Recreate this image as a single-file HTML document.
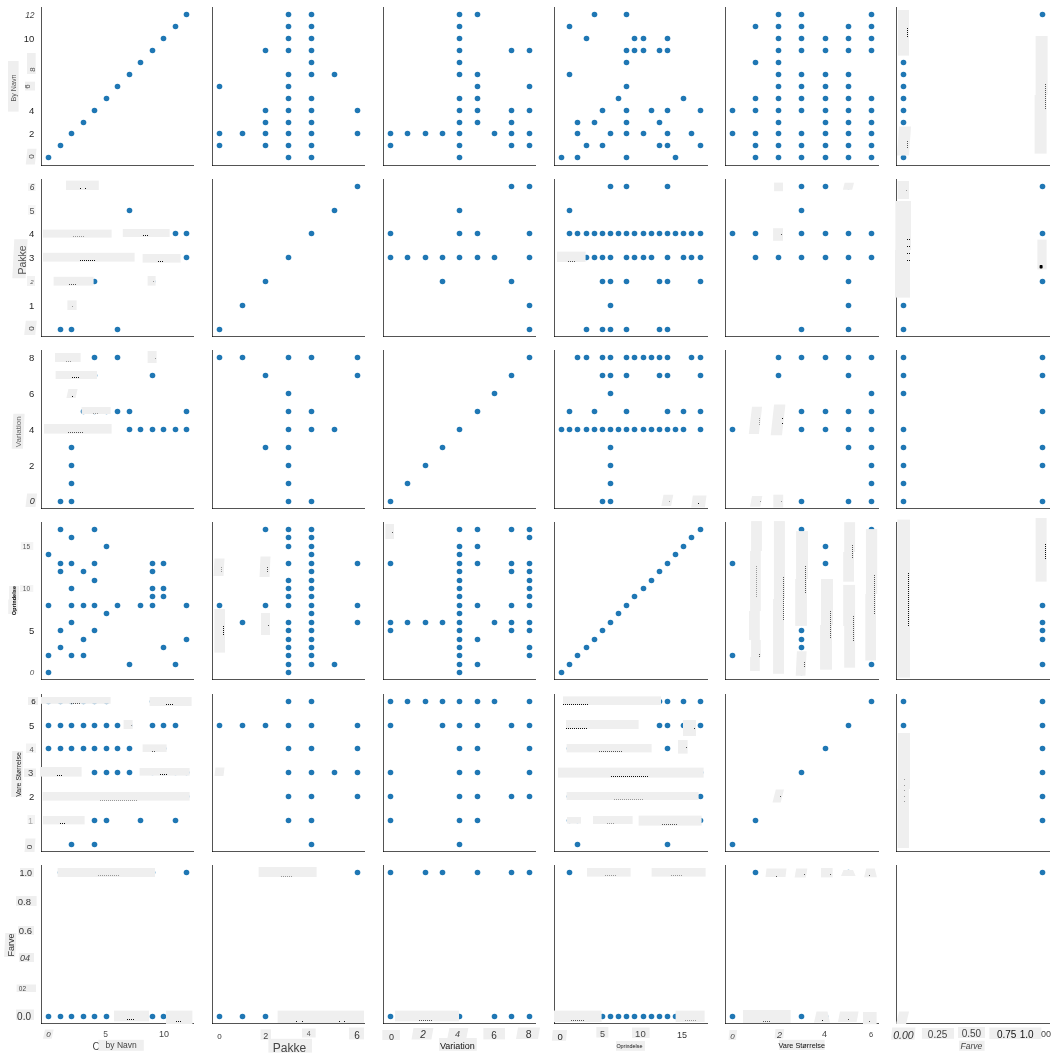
<!DOCTYPE html><html><head><meta charset="utf-8"><title>pairplot</title><style>html,body{margin:0;padding:0;background:#fff}svg{display:block}</style></head><body><svg width="1058" height="1059" viewBox="0 0 1058 1059">
<rect width="1058" height="1059" fill="#fff"/>
<g fill="#1f77b4">
<circle cx="48.5" cy="157.5" r="2.8"/>
<circle cx="60.5" cy="145.5" r="2.8"/>
<circle cx="71.5" cy="133.5" r="2.8"/>
<circle cx="83.5" cy="122.5" r="2.8"/>
<circle cx="94.5" cy="110.5" r="2.8"/>
<circle cx="106.5" cy="98.5" r="2.8"/>
<circle cx="117.5" cy="86.5" r="2.8"/>
<circle cx="129.5" cy="74.5" r="2.8"/>
<circle cx="140.5" cy="62.5" r="2.8"/>
<circle cx="152.5" cy="50.5" r="2.8"/>
<circle cx="163.5" cy="38.5" r="2.8"/>
<circle cx="175.5" cy="26.5" r="2.8"/>
<circle cx="186.5" cy="14.5" r="2.8"/>
<circle cx="219.5" cy="86.5" r="2.8"/>
<circle cx="219.5" cy="133.5" r="2.8"/>
<circle cx="219.5" cy="145.5" r="2.8"/>
<circle cx="242.5" cy="133.5" r="2.8"/>
<circle cx="265.5" cy="50.5" r="2.8"/>
<circle cx="265.5" cy="110.5" r="2.8"/>
<circle cx="265.5" cy="122.5" r="2.8"/>
<circle cx="265.5" cy="133.5" r="2.8"/>
<circle cx="265.5" cy="145.5" r="2.8"/>
<circle cx="288.5" cy="14.5" r="2.8"/>
<circle cx="288.5" cy="26.5" r="2.8"/>
<circle cx="288.5" cy="38.5" r="2.8"/>
<circle cx="288.5" cy="50.5" r="2.8"/>
<circle cx="288.5" cy="74.5" r="2.8"/>
<circle cx="288.5" cy="86.5" r="2.8"/>
<circle cx="288.5" cy="98.5" r="2.8"/>
<circle cx="288.5" cy="110.5" r="2.8"/>
<circle cx="288.5" cy="122.5" r="2.8"/>
<circle cx="288.5" cy="133.5" r="2.8"/>
<circle cx="288.5" cy="145.5" r="2.8"/>
<circle cx="288.5" cy="157.5" r="2.8"/>
<circle cx="311.5" cy="14.5" r="2.8"/>
<circle cx="311.5" cy="26.5" r="2.8"/>
<circle cx="311.5" cy="38.5" r="2.8"/>
<circle cx="311.5" cy="50.5" r="2.8"/>
<circle cx="311.5" cy="62.5" r="2.8"/>
<circle cx="311.5" cy="74.5" r="2.8"/>
<circle cx="311.5" cy="98.5" r="2.8"/>
<circle cx="311.5" cy="110.5" r="2.8"/>
<circle cx="311.5" cy="122.5" r="2.8"/>
<circle cx="311.5" cy="133.5" r="2.8"/>
<circle cx="311.5" cy="145.5" r="2.8"/>
<circle cx="311.5" cy="157.5" r="2.8"/>
<circle cx="334.5" cy="74.5" r="2.8"/>
<circle cx="357.5" cy="110.5" r="2.8"/>
<circle cx="357.5" cy="133.5" r="2.8"/>
<circle cx="390.5" cy="133.5" r="2.8"/>
<circle cx="390.5" cy="145.5" r="2.8"/>
<circle cx="407.5" cy="133.5" r="2.8"/>
<circle cx="425.5" cy="133.5" r="2.8"/>
<circle cx="442.5" cy="133.5" r="2.8"/>
<circle cx="459.5" cy="14.5" r="2.8"/>
<circle cx="459.5" cy="26.5" r="2.8"/>
<circle cx="459.5" cy="38.5" r="2.8"/>
<circle cx="459.5" cy="50.5" r="2.8"/>
<circle cx="459.5" cy="62.5" r="2.8"/>
<circle cx="459.5" cy="74.5" r="2.8"/>
<circle cx="459.5" cy="98.5" r="2.8"/>
<circle cx="459.5" cy="110.5" r="2.8"/>
<circle cx="459.5" cy="122.5" r="2.8"/>
<circle cx="459.5" cy="133.5" r="2.8"/>
<circle cx="459.5" cy="145.5" r="2.8"/>
<circle cx="459.5" cy="157.5" r="2.8"/>
<circle cx="477.5" cy="14.5" r="2.8"/>
<circle cx="477.5" cy="74.5" r="2.8"/>
<circle cx="477.5" cy="86.5" r="2.8"/>
<circle cx="477.5" cy="98.5" r="2.8"/>
<circle cx="477.5" cy="110.5" r="2.8"/>
<circle cx="477.5" cy="122.5" r="2.8"/>
<circle cx="494.5" cy="133.5" r="2.8"/>
<circle cx="511.5" cy="50.5" r="2.8"/>
<circle cx="511.5" cy="110.5" r="2.8"/>
<circle cx="511.5" cy="122.5" r="2.8"/>
<circle cx="511.5" cy="133.5" r="2.8"/>
<circle cx="511.5" cy="145.5" r="2.8"/>
<circle cx="529.5" cy="50.5" r="2.8"/>
<circle cx="529.5" cy="86.5" r="2.8"/>
<circle cx="529.5" cy="110.5" r="2.8"/>
<circle cx="529.5" cy="133.5" r="2.8"/>
<circle cx="529.5" cy="145.5" r="2.8"/>
<circle cx="594.5" cy="14.5" r="2.8"/>
<circle cx="626.5" cy="14.5" r="2.8"/>
<circle cx="569.5" cy="26.5" r="2.8"/>
<circle cx="586.5" cy="38.5" r="2.8"/>
<circle cx="634.5" cy="38.5" r="2.8"/>
<circle cx="643.5" cy="38.5" r="2.8"/>
<circle cx="667.5" cy="38.5" r="2.8"/>
<circle cx="626.5" cy="50.5" r="2.8"/>
<circle cx="634.5" cy="50.5" r="2.8"/>
<circle cx="643.5" cy="50.5" r="2.8"/>
<circle cx="659.5" cy="50.5" r="2.8"/>
<circle cx="667.5" cy="50.5" r="2.8"/>
<circle cx="626.5" cy="62.5" r="2.8"/>
<circle cx="569.5" cy="74.5" r="2.8"/>
<circle cx="626.5" cy="86.5" r="2.8"/>
<circle cx="618.5" cy="98.5" r="2.8"/>
<circle cx="683.5" cy="98.5" r="2.8"/>
<circle cx="602.5" cy="110.5" r="2.8"/>
<circle cx="626.5" cy="110.5" r="2.8"/>
<circle cx="651.5" cy="110.5" r="2.8"/>
<circle cx="667.5" cy="110.5" r="2.8"/>
<circle cx="700.5" cy="110.5" r="2.8"/>
<circle cx="577.5" cy="122.5" r="2.8"/>
<circle cx="594.5" cy="122.5" r="2.8"/>
<circle cx="626.5" cy="122.5" r="2.8"/>
<circle cx="659.5" cy="122.5" r="2.8"/>
<circle cx="577.5" cy="133.5" r="2.8"/>
<circle cx="610.5" cy="133.5" r="2.8"/>
<circle cx="626.5" cy="133.5" r="2.8"/>
<circle cx="643.5" cy="133.5" r="2.8"/>
<circle cx="667.5" cy="133.5" r="2.8"/>
<circle cx="691.5" cy="133.5" r="2.8"/>
<circle cx="586.5" cy="145.5" r="2.8"/>
<circle cx="602.5" cy="145.5" r="2.8"/>
<circle cx="659.5" cy="145.5" r="2.8"/>
<circle cx="667.5" cy="145.5" r="2.8"/>
<circle cx="700.5" cy="145.5" r="2.8"/>
<circle cx="561.5" cy="157.5" r="2.8"/>
<circle cx="577.5" cy="157.5" r="2.8"/>
<circle cx="626.5" cy="157.5" r="2.8"/>
<circle cx="675.5" cy="157.5" r="2.8"/>
<circle cx="778.5" cy="14.5" r="2.8"/>
<circle cx="801.5" cy="14.5" r="2.8"/>
<circle cx="871.5" cy="14.5" r="2.8"/>
<circle cx="755.5" cy="26.5" r="2.8"/>
<circle cx="778.5" cy="26.5" r="2.8"/>
<circle cx="801.5" cy="26.5" r="2.8"/>
<circle cx="848.5" cy="26.5" r="2.8"/>
<circle cx="871.5" cy="26.5" r="2.8"/>
<circle cx="778.5" cy="38.5" r="2.8"/>
<circle cx="801.5" cy="38.5" r="2.8"/>
<circle cx="825.5" cy="38.5" r="2.8"/>
<circle cx="848.5" cy="38.5" r="2.8"/>
<circle cx="871.5" cy="38.5" r="2.8"/>
<circle cx="778.5" cy="50.5" r="2.8"/>
<circle cx="801.5" cy="50.5" r="2.8"/>
<circle cx="825.5" cy="50.5" r="2.8"/>
<circle cx="848.5" cy="50.5" r="2.8"/>
<circle cx="871.5" cy="50.5" r="2.8"/>
<circle cx="755.5" cy="62.5" r="2.8"/>
<circle cx="778.5" cy="62.5" r="2.8"/>
<circle cx="778.5" cy="74.5" r="2.8"/>
<circle cx="801.5" cy="74.5" r="2.8"/>
<circle cx="825.5" cy="74.5" r="2.8"/>
<circle cx="848.5" cy="74.5" r="2.8"/>
<circle cx="778.5" cy="86.5" r="2.8"/>
<circle cx="801.5" cy="86.5" r="2.8"/>
<circle cx="825.5" cy="86.5" r="2.8"/>
<circle cx="848.5" cy="86.5" r="2.8"/>
<circle cx="755.5" cy="98.5" r="2.8"/>
<circle cx="778.5" cy="98.5" r="2.8"/>
<circle cx="801.5" cy="98.5" r="2.8"/>
<circle cx="825.5" cy="98.5" r="2.8"/>
<circle cx="848.5" cy="98.5" r="2.8"/>
<circle cx="871.5" cy="98.5" r="2.8"/>
<circle cx="732.5" cy="110.5" r="2.8"/>
<circle cx="755.5" cy="110.5" r="2.8"/>
<circle cx="778.5" cy="110.5" r="2.8"/>
<circle cx="801.5" cy="110.5" r="2.8"/>
<circle cx="825.5" cy="110.5" r="2.8"/>
<circle cx="848.5" cy="110.5" r="2.8"/>
<circle cx="871.5" cy="110.5" r="2.8"/>
<circle cx="778.5" cy="122.5" r="2.8"/>
<circle cx="825.5" cy="122.5" r="2.8"/>
<circle cx="848.5" cy="122.5" r="2.8"/>
<circle cx="871.5" cy="122.5" r="2.8"/>
<circle cx="732.5" cy="133.5" r="2.8"/>
<circle cx="755.5" cy="133.5" r="2.8"/>
<circle cx="778.5" cy="133.5" r="2.8"/>
<circle cx="801.5" cy="133.5" r="2.8"/>
<circle cx="825.5" cy="133.5" r="2.8"/>
<circle cx="848.5" cy="133.5" r="2.8"/>
<circle cx="871.5" cy="133.5" r="2.8"/>
<circle cx="755.5" cy="145.5" r="2.8"/>
<circle cx="778.5" cy="145.5" r="2.8"/>
<circle cx="801.5" cy="145.5" r="2.8"/>
<circle cx="825.5" cy="145.5" r="2.8"/>
<circle cx="848.5" cy="145.5" r="2.8"/>
<circle cx="871.5" cy="145.5" r="2.8"/>
<circle cx="755.5" cy="157.5" r="2.8"/>
<circle cx="778.5" cy="157.5" r="2.8"/>
<circle cx="801.5" cy="157.5" r="2.8"/>
<circle cx="825.5" cy="157.5" r="2.8"/>
<circle cx="848.5" cy="157.5" r="2.8"/>
<circle cx="871.5" cy="157.5" r="2.8"/>
<circle cx="903.5" cy="157.5" r="2.8"/>
<circle cx="903.5" cy="145.5" r="2.8"/>
<circle cx="903.5" cy="133.5" r="2.8"/>
<circle cx="903.5" cy="122.5" r="2.8"/>
<circle cx="903.5" cy="110.5" r="2.8"/>
<circle cx="903.5" cy="98.5" r="2.8"/>
<circle cx="903.5" cy="86.5" r="2.8"/>
<circle cx="903.5" cy="74.5" r="2.8"/>
<circle cx="903.5" cy="62.5" r="2.8"/>
<circle cx="903.5" cy="50.5" r="2.8"/>
<circle cx="903.5" cy="38.5" r="2.8"/>
<circle cx="903.5" cy="26.5" r="2.8"/>
<circle cx="903.5" cy="14.5" r="2.8"/>
<circle cx="1042.5" cy="145.5" r="2.8"/>
<circle cx="1042.5" cy="133.5" r="2.8"/>
<circle cx="1042.5" cy="122.5" r="2.8"/>
<circle cx="1042.5" cy="110.5" r="2.8"/>
<circle cx="1042.5" cy="98.5" r="2.8"/>
<circle cx="1042.5" cy="86.5" r="2.8"/>
<circle cx="1042.5" cy="74.5" r="2.8"/>
<circle cx="1042.5" cy="62.5" r="2.8"/>
<circle cx="1042.5" cy="50.5" r="2.8"/>
<circle cx="1042.5" cy="14.5" r="2.8"/>
<circle cx="117.5" cy="329.5" r="2.8"/>
<circle cx="71.5" cy="329.5" r="2.8"/>
<circle cx="60.5" cy="329.5" r="2.8"/>
<circle cx="71.5" cy="305.5" r="2.8"/>
<circle cx="152.5" cy="281.5" r="2.8"/>
<circle cx="94.5" cy="281.5" r="2.8"/>
<circle cx="83.5" cy="281.5" r="2.8"/>
<circle cx="71.5" cy="281.5" r="2.8"/>
<circle cx="60.5" cy="281.5" r="2.8"/>
<circle cx="186.5" cy="257.5" r="2.8"/>
<circle cx="175.5" cy="257.5" r="2.8"/>
<circle cx="163.5" cy="257.5" r="2.8"/>
<circle cx="152.5" cy="257.5" r="2.8"/>
<circle cx="129.5" cy="257.5" r="2.8"/>
<circle cx="117.5" cy="257.5" r="2.8"/>
<circle cx="106.5" cy="257.5" r="2.8"/>
<circle cx="94.5" cy="257.5" r="2.8"/>
<circle cx="83.5" cy="257.5" r="2.8"/>
<circle cx="71.5" cy="257.5" r="2.8"/>
<circle cx="60.5" cy="257.5" r="2.8"/>
<circle cx="48.5" cy="257.5" r="2.8"/>
<circle cx="186.5" cy="233.5" r="2.8"/>
<circle cx="175.5" cy="233.5" r="2.8"/>
<circle cx="163.5" cy="233.5" r="2.8"/>
<circle cx="152.5" cy="233.5" r="2.8"/>
<circle cx="140.5" cy="233.5" r="2.8"/>
<circle cx="129.5" cy="233.5" r="2.8"/>
<circle cx="106.5" cy="233.5" r="2.8"/>
<circle cx="94.5" cy="233.5" r="2.8"/>
<circle cx="83.5" cy="233.5" r="2.8"/>
<circle cx="71.5" cy="233.5" r="2.8"/>
<circle cx="60.5" cy="233.5" r="2.8"/>
<circle cx="48.5" cy="233.5" r="2.8"/>
<circle cx="129.5" cy="210.5" r="2.8"/>
<circle cx="94.5" cy="186.5" r="2.8"/>
<circle cx="71.5" cy="186.5" r="2.8"/>
<circle cx="219.5" cy="329.5" r="2.8"/>
<circle cx="242.5" cy="305.5" r="2.8"/>
<circle cx="265.5" cy="281.5" r="2.8"/>
<circle cx="288.5" cy="257.5" r="2.8"/>
<circle cx="311.5" cy="233.5" r="2.8"/>
<circle cx="334.5" cy="210.5" r="2.8"/>
<circle cx="357.5" cy="186.5" r="2.8"/>
<circle cx="511.5" cy="186.5" r="2.8"/>
<circle cx="529.5" cy="186.5" r="2.8"/>
<circle cx="459.5" cy="210.5" r="2.8"/>
<circle cx="390.5" cy="233.5" r="2.8"/>
<circle cx="459.5" cy="233.5" r="2.8"/>
<circle cx="477.5" cy="233.5" r="2.8"/>
<circle cx="529.5" cy="233.5" r="2.8"/>
<circle cx="390.5" cy="257.5" r="2.8"/>
<circle cx="407.5" cy="257.5" r="2.8"/>
<circle cx="425.5" cy="257.5" r="2.8"/>
<circle cx="442.5" cy="257.5" r="2.8"/>
<circle cx="459.5" cy="257.5" r="2.8"/>
<circle cx="477.5" cy="257.5" r="2.8"/>
<circle cx="494.5" cy="257.5" r="2.8"/>
<circle cx="529.5" cy="257.5" r="2.8"/>
<circle cx="442.5" cy="281.5" r="2.8"/>
<circle cx="511.5" cy="281.5" r="2.8"/>
<circle cx="529.5" cy="305.5" r="2.8"/>
<circle cx="529.5" cy="329.5" r="2.8"/>
<circle cx="610.5" cy="186.5" r="2.8"/>
<circle cx="626.5" cy="186.5" r="2.8"/>
<circle cx="667.5" cy="186.5" r="2.8"/>
<circle cx="569.5" cy="210.5" r="2.8"/>
<circle cx="569.5" cy="233.5" r="2.8"/>
<circle cx="577.5" cy="233.5" r="2.8"/>
<circle cx="586.5" cy="233.5" r="2.8"/>
<circle cx="594.5" cy="233.5" r="2.8"/>
<circle cx="602.5" cy="233.5" r="2.8"/>
<circle cx="610.5" cy="233.5" r="2.8"/>
<circle cx="618.5" cy="233.5" r="2.8"/>
<circle cx="626.5" cy="233.5" r="2.8"/>
<circle cx="634.5" cy="233.5" r="2.8"/>
<circle cx="643.5" cy="233.5" r="2.8"/>
<circle cx="651.5" cy="233.5" r="2.8"/>
<circle cx="659.5" cy="233.5" r="2.8"/>
<circle cx="667.5" cy="233.5" r="2.8"/>
<circle cx="675.5" cy="233.5" r="2.8"/>
<circle cx="683.5" cy="233.5" r="2.8"/>
<circle cx="691.5" cy="233.5" r="2.8"/>
<circle cx="700.5" cy="233.5" r="2.8"/>
<circle cx="561.5" cy="257.5" r="2.8"/>
<circle cx="569.5" cy="257.5" r="2.8"/>
<circle cx="577.5" cy="257.5" r="2.8"/>
<circle cx="586.5" cy="257.5" r="2.8"/>
<circle cx="594.5" cy="257.5" r="2.8"/>
<circle cx="602.5" cy="257.5" r="2.8"/>
<circle cx="610.5" cy="257.5" r="2.8"/>
<circle cx="626.5" cy="257.5" r="2.8"/>
<circle cx="634.5" cy="257.5" r="2.8"/>
<circle cx="643.5" cy="257.5" r="2.8"/>
<circle cx="651.5" cy="257.5" r="2.8"/>
<circle cx="667.5" cy="257.5" r="2.8"/>
<circle cx="683.5" cy="257.5" r="2.8"/>
<circle cx="691.5" cy="257.5" r="2.8"/>
<circle cx="700.5" cy="257.5" r="2.8"/>
<circle cx="602.5" cy="281.5" r="2.8"/>
<circle cx="610.5" cy="281.5" r="2.8"/>
<circle cx="626.5" cy="281.5" r="2.8"/>
<circle cx="659.5" cy="281.5" r="2.8"/>
<circle cx="667.5" cy="281.5" r="2.8"/>
<circle cx="700.5" cy="281.5" r="2.8"/>
<circle cx="610.5" cy="305.5" r="2.8"/>
<circle cx="586.5" cy="329.5" r="2.8"/>
<circle cx="602.5" cy="329.5" r="2.8"/>
<circle cx="610.5" cy="329.5" r="2.8"/>
<circle cx="626.5" cy="329.5" r="2.8"/>
<circle cx="659.5" cy="329.5" r="2.8"/>
<circle cx="667.5" cy="329.5" r="2.8"/>
<circle cx="778.5" cy="186.5" r="2.8"/>
<circle cx="801.5" cy="186.5" r="2.8"/>
<circle cx="825.5" cy="186.5" r="2.8"/>
<circle cx="848.5" cy="186.5" r="2.8"/>
<circle cx="801.5" cy="210.5" r="2.8"/>
<circle cx="732.5" cy="233.5" r="2.8"/>
<circle cx="755.5" cy="233.5" r="2.8"/>
<circle cx="778.5" cy="233.5" r="2.8"/>
<circle cx="801.5" cy="233.5" r="2.8"/>
<circle cx="825.5" cy="233.5" r="2.8"/>
<circle cx="848.5" cy="233.5" r="2.8"/>
<circle cx="871.5" cy="233.5" r="2.8"/>
<circle cx="755.5" cy="257.5" r="2.8"/>
<circle cx="778.5" cy="257.5" r="2.8"/>
<circle cx="801.5" cy="257.5" r="2.8"/>
<circle cx="825.5" cy="257.5" r="2.8"/>
<circle cx="848.5" cy="257.5" r="2.8"/>
<circle cx="871.5" cy="257.5" r="2.8"/>
<circle cx="848.5" cy="281.5" r="2.8"/>
<circle cx="848.5" cy="305.5" r="2.8"/>
<circle cx="801.5" cy="329.5" r="2.8"/>
<circle cx="848.5" cy="329.5" r="2.8"/>
<circle cx="903.5" cy="329.5" r="2.8"/>
<circle cx="903.5" cy="305.5" r="2.8"/>
<circle cx="903.5" cy="281.5" r="2.8"/>
<circle cx="903.5" cy="257.5" r="2.8"/>
<circle cx="903.5" cy="233.5" r="2.8"/>
<circle cx="903.5" cy="210.5" r="2.8"/>
<circle cx="903.5" cy="186.5" r="2.8"/>
<circle cx="1042.5" cy="281.5" r="2.8"/>
<circle cx="1042.5" cy="257.5" r="2.8"/>
<circle cx="1042.5" cy="233.5" r="2.8"/>
<circle cx="1042.5" cy="186.5" r="2.8"/>
<circle cx="71.5" cy="501.5" r="2.8"/>
<circle cx="60.5" cy="501.5" r="2.8"/>
<circle cx="71.5" cy="483.5" r="2.8"/>
<circle cx="71.5" cy="465.5" r="2.8"/>
<circle cx="71.5" cy="447.5" r="2.8"/>
<circle cx="186.5" cy="429.5" r="2.8"/>
<circle cx="175.5" cy="429.5" r="2.8"/>
<circle cx="163.5" cy="429.5" r="2.8"/>
<circle cx="152.5" cy="429.5" r="2.8"/>
<circle cx="140.5" cy="429.5" r="2.8"/>
<circle cx="129.5" cy="429.5" r="2.8"/>
<circle cx="106.5" cy="429.5" r="2.8"/>
<circle cx="94.5" cy="429.5" r="2.8"/>
<circle cx="83.5" cy="429.5" r="2.8"/>
<circle cx="71.5" cy="429.5" r="2.8"/>
<circle cx="60.5" cy="429.5" r="2.8"/>
<circle cx="48.5" cy="429.5" r="2.8"/>
<circle cx="186.5" cy="411.5" r="2.8"/>
<circle cx="129.5" cy="411.5" r="2.8"/>
<circle cx="117.5" cy="411.5" r="2.8"/>
<circle cx="106.5" cy="411.5" r="2.8"/>
<circle cx="94.5" cy="411.5" r="2.8"/>
<circle cx="83.5" cy="411.5" r="2.8"/>
<circle cx="71.5" cy="393.5" r="2.8"/>
<circle cx="152.5" cy="375.5" r="2.8"/>
<circle cx="94.5" cy="375.5" r="2.8"/>
<circle cx="83.5" cy="375.5" r="2.8"/>
<circle cx="71.5" cy="375.5" r="2.8"/>
<circle cx="60.5" cy="375.5" r="2.8"/>
<circle cx="152.5" cy="357.5" r="2.8"/>
<circle cx="117.5" cy="357.5" r="2.8"/>
<circle cx="94.5" cy="357.5" r="2.8"/>
<circle cx="71.5" cy="357.5" r="2.8"/>
<circle cx="60.5" cy="357.5" r="2.8"/>
<circle cx="357.5" cy="375.5" r="2.8"/>
<circle cx="357.5" cy="357.5" r="2.8"/>
<circle cx="334.5" cy="429.5" r="2.8"/>
<circle cx="311.5" cy="501.5" r="2.8"/>
<circle cx="311.5" cy="429.5" r="2.8"/>
<circle cx="311.5" cy="411.5" r="2.8"/>
<circle cx="311.5" cy="357.5" r="2.8"/>
<circle cx="288.5" cy="501.5" r="2.8"/>
<circle cx="288.5" cy="483.5" r="2.8"/>
<circle cx="288.5" cy="465.5" r="2.8"/>
<circle cx="288.5" cy="447.5" r="2.8"/>
<circle cx="288.5" cy="429.5" r="2.8"/>
<circle cx="288.5" cy="411.5" r="2.8"/>
<circle cx="288.5" cy="393.5" r="2.8"/>
<circle cx="288.5" cy="357.5" r="2.8"/>
<circle cx="265.5" cy="447.5" r="2.8"/>
<circle cx="265.5" cy="375.5" r="2.8"/>
<circle cx="242.5" cy="357.5" r="2.8"/>
<circle cx="219.5" cy="357.5" r="2.8"/>
<circle cx="390.5" cy="501.5" r="2.8"/>
<circle cx="407.5" cy="483.5" r="2.8"/>
<circle cx="425.5" cy="465.5" r="2.8"/>
<circle cx="442.5" cy="447.5" r="2.8"/>
<circle cx="459.5" cy="429.5" r="2.8"/>
<circle cx="477.5" cy="411.5" r="2.8"/>
<circle cx="494.5" cy="393.5" r="2.8"/>
<circle cx="511.5" cy="375.5" r="2.8"/>
<circle cx="529.5" cy="357.5" r="2.8"/>
<circle cx="577.5" cy="357.5" r="2.8"/>
<circle cx="586.5" cy="357.5" r="2.8"/>
<circle cx="602.5" cy="357.5" r="2.8"/>
<circle cx="610.5" cy="357.5" r="2.8"/>
<circle cx="626.5" cy="357.5" r="2.8"/>
<circle cx="634.5" cy="357.5" r="2.8"/>
<circle cx="643.5" cy="357.5" r="2.8"/>
<circle cx="651.5" cy="357.5" r="2.8"/>
<circle cx="659.5" cy="357.5" r="2.8"/>
<circle cx="667.5" cy="357.5" r="2.8"/>
<circle cx="691.5" cy="357.5" r="2.8"/>
<circle cx="700.5" cy="357.5" r="2.8"/>
<circle cx="602.5" cy="375.5" r="2.8"/>
<circle cx="610.5" cy="375.5" r="2.8"/>
<circle cx="626.5" cy="375.5" r="2.8"/>
<circle cx="659.5" cy="375.5" r="2.8"/>
<circle cx="667.5" cy="375.5" r="2.8"/>
<circle cx="700.5" cy="375.5" r="2.8"/>
<circle cx="610.5" cy="393.5" r="2.8"/>
<circle cx="569.5" cy="411.5" r="2.8"/>
<circle cx="594.5" cy="411.5" r="2.8"/>
<circle cx="626.5" cy="411.5" r="2.8"/>
<circle cx="667.5" cy="411.5" r="2.8"/>
<circle cx="683.5" cy="411.5" r="2.8"/>
<circle cx="700.5" cy="411.5" r="2.8"/>
<circle cx="561.5" cy="429.5" r="2.8"/>
<circle cx="569.5" cy="429.5" r="2.8"/>
<circle cx="577.5" cy="429.5" r="2.8"/>
<circle cx="586.5" cy="429.5" r="2.8"/>
<circle cx="594.5" cy="429.5" r="2.8"/>
<circle cx="602.5" cy="429.5" r="2.8"/>
<circle cx="610.5" cy="429.5" r="2.8"/>
<circle cx="618.5" cy="429.5" r="2.8"/>
<circle cx="626.5" cy="429.5" r="2.8"/>
<circle cx="634.5" cy="429.5" r="2.8"/>
<circle cx="643.5" cy="429.5" r="2.8"/>
<circle cx="651.5" cy="429.5" r="2.8"/>
<circle cx="659.5" cy="429.5" r="2.8"/>
<circle cx="667.5" cy="429.5" r="2.8"/>
<circle cx="675.5" cy="429.5" r="2.8"/>
<circle cx="683.5" cy="429.5" r="2.8"/>
<circle cx="700.5" cy="429.5" r="2.8"/>
<circle cx="610.5" cy="447.5" r="2.8"/>
<circle cx="610.5" cy="465.5" r="2.8"/>
<circle cx="610.5" cy="483.5" r="2.8"/>
<circle cx="602.5" cy="501.5" r="2.8"/>
<circle cx="610.5" cy="501.5" r="2.8"/>
<circle cx="667.5" cy="501.5" r="2.8"/>
<circle cx="700.5" cy="501.5" r="2.8"/>
<circle cx="778.5" cy="357.5" r="2.8"/>
<circle cx="801.5" cy="357.5" r="2.8"/>
<circle cx="825.5" cy="357.5" r="2.8"/>
<circle cx="848.5" cy="357.5" r="2.8"/>
<circle cx="871.5" cy="357.5" r="2.8"/>
<circle cx="778.5" cy="375.5" r="2.8"/>
<circle cx="848.5" cy="375.5" r="2.8"/>
<circle cx="871.5" cy="393.5" r="2.8"/>
<circle cx="755.5" cy="411.5" r="2.8"/>
<circle cx="778.5" cy="411.5" r="2.8"/>
<circle cx="801.5" cy="411.5" r="2.8"/>
<circle cx="825.5" cy="411.5" r="2.8"/>
<circle cx="848.5" cy="411.5" r="2.8"/>
<circle cx="871.5" cy="411.5" r="2.8"/>
<circle cx="732.5" cy="429.5" r="2.8"/>
<circle cx="755.5" cy="429.5" r="2.8"/>
<circle cx="778.5" cy="429.5" r="2.8"/>
<circle cx="801.5" cy="429.5" r="2.8"/>
<circle cx="825.5" cy="429.5" r="2.8"/>
<circle cx="848.5" cy="429.5" r="2.8"/>
<circle cx="871.5" cy="429.5" r="2.8"/>
<circle cx="848.5" cy="447.5" r="2.8"/>
<circle cx="871.5" cy="447.5" r="2.8"/>
<circle cx="871.5" cy="465.5" r="2.8"/>
<circle cx="871.5" cy="483.5" r="2.8"/>
<circle cx="755.5" cy="501.5" r="2.8"/>
<circle cx="778.5" cy="501.5" r="2.8"/>
<circle cx="801.5" cy="501.5" r="2.8"/>
<circle cx="848.5" cy="501.5" r="2.8"/>
<circle cx="871.5" cy="501.5" r="2.8"/>
<circle cx="903.5" cy="357.5" r="2.8"/>
<circle cx="903.5" cy="375.5" r="2.8"/>
<circle cx="903.5" cy="393.5" r="2.8"/>
<circle cx="903.5" cy="429.5" r="2.8"/>
<circle cx="903.5" cy="447.5" r="2.8"/>
<circle cx="903.5" cy="465.5" r="2.8"/>
<circle cx="903.5" cy="483.5" r="2.8"/>
<circle cx="903.5" cy="501.5" r="2.8"/>
<circle cx="1042.5" cy="357.5" r="2.8"/>
<circle cx="1042.5" cy="375.5" r="2.8"/>
<circle cx="1042.5" cy="411.5" r="2.8"/>
<circle cx="1042.5" cy="447.5" r="2.8"/>
<circle cx="1042.5" cy="465.5" r="2.8"/>
<circle cx="1042.5" cy="501.5" r="2.8"/>
<circle cx="186.5" cy="639.5" r="2.8"/>
<circle cx="186.5" cy="605.5" r="2.8"/>
<circle cx="175.5" cy="664.5" r="2.8"/>
<circle cx="163.5" cy="647.5" r="2.8"/>
<circle cx="163.5" cy="596.5" r="2.8"/>
<circle cx="163.5" cy="588.5" r="2.8"/>
<circle cx="163.5" cy="563.5" r="2.8"/>
<circle cx="152.5" cy="605.5" r="2.8"/>
<circle cx="152.5" cy="596.5" r="2.8"/>
<circle cx="152.5" cy="588.5" r="2.8"/>
<circle cx="152.5" cy="571.5" r="2.8"/>
<circle cx="152.5" cy="563.5" r="2.8"/>
<circle cx="140.5" cy="605.5" r="2.8"/>
<circle cx="129.5" cy="664.5" r="2.8"/>
<circle cx="117.5" cy="605.5" r="2.8"/>
<circle cx="106.5" cy="613.5" r="2.8"/>
<circle cx="106.5" cy="546.5" r="2.8"/>
<circle cx="94.5" cy="630.5" r="2.8"/>
<circle cx="94.5" cy="605.5" r="2.8"/>
<circle cx="94.5" cy="580.5" r="2.8"/>
<circle cx="94.5" cy="563.5" r="2.8"/>
<circle cx="94.5" cy="529.5" r="2.8"/>
<circle cx="83.5" cy="655.5" r="2.8"/>
<circle cx="83.5" cy="639.5" r="2.8"/>
<circle cx="83.5" cy="605.5" r="2.8"/>
<circle cx="83.5" cy="571.5" r="2.8"/>
<circle cx="71.5" cy="655.5" r="2.8"/>
<circle cx="71.5" cy="622.5" r="2.8"/>
<circle cx="71.5" cy="605.5" r="2.8"/>
<circle cx="71.5" cy="588.5" r="2.8"/>
<circle cx="71.5" cy="563.5" r="2.8"/>
<circle cx="71.5" cy="537.5" r="2.8"/>
<circle cx="60.5" cy="647.5" r="2.8"/>
<circle cx="60.5" cy="630.5" r="2.8"/>
<circle cx="60.5" cy="571.5" r="2.8"/>
<circle cx="60.5" cy="563.5" r="2.8"/>
<circle cx="60.5" cy="529.5" r="2.8"/>
<circle cx="48.5" cy="672.5" r="2.8"/>
<circle cx="48.5" cy="655.5" r="2.8"/>
<circle cx="48.5" cy="605.5" r="2.8"/>
<circle cx="48.5" cy="554.5" r="2.8"/>
<circle cx="357.5" cy="622.5" r="2.8"/>
<circle cx="357.5" cy="605.5" r="2.8"/>
<circle cx="357.5" cy="563.5" r="2.8"/>
<circle cx="334.5" cy="664.5" r="2.8"/>
<circle cx="311.5" cy="664.5" r="2.8"/>
<circle cx="311.5" cy="655.5" r="2.8"/>
<circle cx="311.5" cy="647.5" r="2.8"/>
<circle cx="311.5" cy="639.5" r="2.8"/>
<circle cx="311.5" cy="630.5" r="2.8"/>
<circle cx="311.5" cy="622.5" r="2.8"/>
<circle cx="311.5" cy="613.5" r="2.8"/>
<circle cx="311.5" cy="605.5" r="2.8"/>
<circle cx="311.5" cy="596.5" r="2.8"/>
<circle cx="311.5" cy="588.5" r="2.8"/>
<circle cx="311.5" cy="580.5" r="2.8"/>
<circle cx="311.5" cy="571.5" r="2.8"/>
<circle cx="311.5" cy="563.5" r="2.8"/>
<circle cx="311.5" cy="554.5" r="2.8"/>
<circle cx="311.5" cy="546.5" r="2.8"/>
<circle cx="311.5" cy="537.5" r="2.8"/>
<circle cx="311.5" cy="529.5" r="2.8"/>
<circle cx="288.5" cy="672.5" r="2.8"/>
<circle cx="288.5" cy="664.5" r="2.8"/>
<circle cx="288.5" cy="655.5" r="2.8"/>
<circle cx="288.5" cy="647.5" r="2.8"/>
<circle cx="288.5" cy="639.5" r="2.8"/>
<circle cx="288.5" cy="630.5" r="2.8"/>
<circle cx="288.5" cy="622.5" r="2.8"/>
<circle cx="288.5" cy="605.5" r="2.8"/>
<circle cx="288.5" cy="596.5" r="2.8"/>
<circle cx="288.5" cy="588.5" r="2.8"/>
<circle cx="288.5" cy="580.5" r="2.8"/>
<circle cx="288.5" cy="563.5" r="2.8"/>
<circle cx="288.5" cy="546.5" r="2.8"/>
<circle cx="288.5" cy="537.5" r="2.8"/>
<circle cx="288.5" cy="529.5" r="2.8"/>
<circle cx="265.5" cy="630.5" r="2.8"/>
<circle cx="265.5" cy="622.5" r="2.8"/>
<circle cx="265.5" cy="605.5" r="2.8"/>
<circle cx="265.5" cy="571.5" r="2.8"/>
<circle cx="265.5" cy="563.5" r="2.8"/>
<circle cx="265.5" cy="529.5" r="2.8"/>
<circle cx="242.5" cy="622.5" r="2.8"/>
<circle cx="219.5" cy="647.5" r="2.8"/>
<circle cx="219.5" cy="630.5" r="2.8"/>
<circle cx="219.5" cy="622.5" r="2.8"/>
<circle cx="219.5" cy="605.5" r="2.8"/>
<circle cx="219.5" cy="571.5" r="2.8"/>
<circle cx="219.5" cy="563.5" r="2.8"/>
<circle cx="529.5" cy="655.5" r="2.8"/>
<circle cx="529.5" cy="647.5" r="2.8"/>
<circle cx="529.5" cy="630.5" r="2.8"/>
<circle cx="529.5" cy="622.5" r="2.8"/>
<circle cx="529.5" cy="605.5" r="2.8"/>
<circle cx="529.5" cy="596.5" r="2.8"/>
<circle cx="529.5" cy="588.5" r="2.8"/>
<circle cx="529.5" cy="580.5" r="2.8"/>
<circle cx="529.5" cy="571.5" r="2.8"/>
<circle cx="529.5" cy="563.5" r="2.8"/>
<circle cx="529.5" cy="537.5" r="2.8"/>
<circle cx="529.5" cy="529.5" r="2.8"/>
<circle cx="511.5" cy="630.5" r="2.8"/>
<circle cx="511.5" cy="622.5" r="2.8"/>
<circle cx="511.5" cy="605.5" r="2.8"/>
<circle cx="511.5" cy="571.5" r="2.8"/>
<circle cx="511.5" cy="563.5" r="2.8"/>
<circle cx="511.5" cy="529.5" r="2.8"/>
<circle cx="494.5" cy="622.5" r="2.8"/>
<circle cx="477.5" cy="664.5" r="2.8"/>
<circle cx="477.5" cy="639.5" r="2.8"/>
<circle cx="477.5" cy="605.5" r="2.8"/>
<circle cx="477.5" cy="563.5" r="2.8"/>
<circle cx="477.5" cy="546.5" r="2.8"/>
<circle cx="477.5" cy="529.5" r="2.8"/>
<circle cx="459.5" cy="672.5" r="2.8"/>
<circle cx="459.5" cy="664.5" r="2.8"/>
<circle cx="459.5" cy="655.5" r="2.8"/>
<circle cx="459.5" cy="647.5" r="2.8"/>
<circle cx="459.5" cy="639.5" r="2.8"/>
<circle cx="459.5" cy="630.5" r="2.8"/>
<circle cx="459.5" cy="622.5" r="2.8"/>
<circle cx="459.5" cy="613.5" r="2.8"/>
<circle cx="459.5" cy="605.5" r="2.8"/>
<circle cx="459.5" cy="596.5" r="2.8"/>
<circle cx="459.5" cy="588.5" r="2.8"/>
<circle cx="459.5" cy="580.5" r="2.8"/>
<circle cx="459.5" cy="571.5" r="2.8"/>
<circle cx="459.5" cy="563.5" r="2.8"/>
<circle cx="459.5" cy="554.5" r="2.8"/>
<circle cx="459.5" cy="546.5" r="2.8"/>
<circle cx="459.5" cy="529.5" r="2.8"/>
<circle cx="442.5" cy="622.5" r="2.8"/>
<circle cx="425.5" cy="622.5" r="2.8"/>
<circle cx="407.5" cy="622.5" r="2.8"/>
<circle cx="390.5" cy="630.5" r="2.8"/>
<circle cx="390.5" cy="622.5" r="2.8"/>
<circle cx="390.5" cy="563.5" r="2.8"/>
<circle cx="390.5" cy="529.5" r="2.8"/>
<circle cx="561.5" cy="672.5" r="2.8"/>
<circle cx="569.5" cy="664.5" r="2.8"/>
<circle cx="577.5" cy="655.5" r="2.8"/>
<circle cx="586.5" cy="647.5" r="2.8"/>
<circle cx="594.5" cy="639.5" r="2.8"/>
<circle cx="602.5" cy="630.5" r="2.8"/>
<circle cx="610.5" cy="622.5" r="2.8"/>
<circle cx="618.5" cy="613.5" r="2.8"/>
<circle cx="626.5" cy="605.5" r="2.8"/>
<circle cx="634.5" cy="596.5" r="2.8"/>
<circle cx="643.5" cy="588.5" r="2.8"/>
<circle cx="651.5" cy="580.5" r="2.8"/>
<circle cx="659.5" cy="571.5" r="2.8"/>
<circle cx="667.5" cy="563.5" r="2.8"/>
<circle cx="675.5" cy="554.5" r="2.8"/>
<circle cx="683.5" cy="546.5" r="2.8"/>
<circle cx="691.5" cy="537.5" r="2.8"/>
<circle cx="700.5" cy="529.5" r="2.8"/>
<circle cx="871.5" cy="664.5" r="2.8"/>
<circle cx="871.5" cy="655.5" r="2.8"/>
<circle cx="871.5" cy="647.5" r="2.8"/>
<circle cx="871.5" cy="639.5" r="2.8"/>
<circle cx="871.5" cy="630.5" r="2.8"/>
<circle cx="871.5" cy="622.5" r="2.8"/>
<circle cx="871.5" cy="613.5" r="2.8"/>
<circle cx="871.5" cy="605.5" r="2.8"/>
<circle cx="871.5" cy="596.5" r="2.8"/>
<circle cx="871.5" cy="588.5" r="2.8"/>
<circle cx="871.5" cy="580.5" r="2.8"/>
<circle cx="871.5" cy="571.5" r="2.8"/>
<circle cx="871.5" cy="563.5" r="2.8"/>
<circle cx="871.5" cy="546.5" r="2.8"/>
<circle cx="871.5" cy="529.5" r="2.8"/>
<circle cx="848.5" cy="655.5" r="2.8"/>
<circle cx="848.5" cy="647.5" r="2.8"/>
<circle cx="848.5" cy="639.5" r="2.8"/>
<circle cx="848.5" cy="630.5" r="2.8"/>
<circle cx="848.5" cy="622.5" r="2.8"/>
<circle cx="848.5" cy="613.5" r="2.8"/>
<circle cx="848.5" cy="605.5" r="2.8"/>
<circle cx="848.5" cy="596.5" r="2.8"/>
<circle cx="848.5" cy="571.5" r="2.8"/>
<circle cx="848.5" cy="563.5" r="2.8"/>
<circle cx="848.5" cy="546.5" r="2.8"/>
<circle cx="848.5" cy="529.5" r="2.8"/>
<circle cx="825.5" cy="664.5" r="2.8"/>
<circle cx="825.5" cy="655.5" r="2.8"/>
<circle cx="825.5" cy="647.5" r="2.8"/>
<circle cx="825.5" cy="639.5" r="2.8"/>
<circle cx="825.5" cy="630.5" r="2.8"/>
<circle cx="825.5" cy="622.5" r="2.8"/>
<circle cx="825.5" cy="613.5" r="2.8"/>
<circle cx="825.5" cy="605.5" r="2.8"/>
<circle cx="825.5" cy="596.5" r="2.8"/>
<circle cx="825.5" cy="588.5" r="2.8"/>
<circle cx="825.5" cy="563.5" r="2.8"/>
<circle cx="825.5" cy="546.5" r="2.8"/>
<circle cx="801.5" cy="672.5" r="2.8"/>
<circle cx="801.5" cy="664.5" r="2.8"/>
<circle cx="801.5" cy="655.5" r="2.8"/>
<circle cx="801.5" cy="647.5" r="2.8"/>
<circle cx="801.5" cy="639.5" r="2.8"/>
<circle cx="801.5" cy="630.5" r="2.8"/>
<circle cx="801.5" cy="622.5" r="2.8"/>
<circle cx="801.5" cy="613.5" r="2.8"/>
<circle cx="801.5" cy="605.5" r="2.8"/>
<circle cx="801.5" cy="596.5" r="2.8"/>
<circle cx="801.5" cy="588.5" r="2.8"/>
<circle cx="801.5" cy="580.5" r="2.8"/>
<circle cx="801.5" cy="571.5" r="2.8"/>
<circle cx="801.5" cy="563.5" r="2.8"/>
<circle cx="801.5" cy="554.5" r="2.8"/>
<circle cx="801.5" cy="546.5" r="2.8"/>
<circle cx="801.5" cy="537.5" r="2.8"/>
<circle cx="801.5" cy="529.5" r="2.8"/>
<circle cx="778.5" cy="664.5" r="2.8"/>
<circle cx="778.5" cy="655.5" r="2.8"/>
<circle cx="778.5" cy="647.5" r="2.8"/>
<circle cx="778.5" cy="639.5" r="2.8"/>
<circle cx="778.5" cy="630.5" r="2.8"/>
<circle cx="778.5" cy="622.5" r="2.8"/>
<circle cx="778.5" cy="613.5" r="2.8"/>
<circle cx="778.5" cy="605.5" r="2.8"/>
<circle cx="778.5" cy="596.5" r="2.8"/>
<circle cx="778.5" cy="588.5" r="2.8"/>
<circle cx="778.5" cy="580.5" r="2.8"/>
<circle cx="778.5" cy="571.5" r="2.8"/>
<circle cx="778.5" cy="563.5" r="2.8"/>
<circle cx="778.5" cy="554.5" r="2.8"/>
<circle cx="778.5" cy="546.5" r="2.8"/>
<circle cx="778.5" cy="537.5" r="2.8"/>
<circle cx="778.5" cy="529.5" r="2.8"/>
<circle cx="755.5" cy="664.5" r="2.8"/>
<circle cx="755.5" cy="655.5" r="2.8"/>
<circle cx="755.5" cy="630.5" r="2.8"/>
<circle cx="755.5" cy="622.5" r="2.8"/>
<circle cx="755.5" cy="613.5" r="2.8"/>
<circle cx="755.5" cy="605.5" r="2.8"/>
<circle cx="755.5" cy="588.5" r="2.8"/>
<circle cx="755.5" cy="580.5" r="2.8"/>
<circle cx="755.5" cy="571.5" r="2.8"/>
<circle cx="755.5" cy="563.5" r="2.8"/>
<circle cx="755.5" cy="554.5" r="2.8"/>
<circle cx="755.5" cy="546.5" r="2.8"/>
<circle cx="755.5" cy="537.5" r="2.8"/>
<circle cx="755.5" cy="529.5" r="2.8"/>
<circle cx="732.5" cy="655.5" r="2.8"/>
<circle cx="732.5" cy="563.5" r="2.8"/>
<circle cx="903.5" cy="672.5" r="2.8"/>
<circle cx="903.5" cy="664.5" r="2.8"/>
<circle cx="903.5" cy="655.5" r="2.8"/>
<circle cx="903.5" cy="647.5" r="2.8"/>
<circle cx="903.5" cy="639.5" r="2.8"/>
<circle cx="903.5" cy="630.5" r="2.8"/>
<circle cx="903.5" cy="622.5" r="2.8"/>
<circle cx="903.5" cy="613.5" r="2.8"/>
<circle cx="903.5" cy="605.5" r="2.8"/>
<circle cx="903.5" cy="596.5" r="2.8"/>
<circle cx="903.5" cy="588.5" r="2.8"/>
<circle cx="903.5" cy="580.5" r="2.8"/>
<circle cx="903.5" cy="571.5" r="2.8"/>
<circle cx="903.5" cy="563.5" r="2.8"/>
<circle cx="903.5" cy="554.5" r="2.8"/>
<circle cx="903.5" cy="546.5" r="2.8"/>
<circle cx="903.5" cy="537.5" r="2.8"/>
<circle cx="903.5" cy="529.5" r="2.8"/>
<circle cx="1042.5" cy="664.5" r="2.8"/>
<circle cx="1042.5" cy="639.5" r="2.8"/>
<circle cx="1042.5" cy="630.5" r="2.8"/>
<circle cx="1042.5" cy="622.5" r="2.8"/>
<circle cx="1042.5" cy="605.5" r="2.8"/>
<circle cx="1042.5" cy="571.5" r="2.8"/>
<circle cx="1042.5" cy="563.5" r="2.8"/>
<circle cx="1042.5" cy="554.5" r="2.8"/>
<circle cx="1042.5" cy="546.5" r="2.8"/>
<circle cx="1042.5" cy="537.5" r="2.8"/>
<circle cx="1042.5" cy="529.5" r="2.8"/>
<circle cx="186.5" cy="796.5" r="2.8"/>
<circle cx="186.5" cy="772.5" r="2.8"/>
<circle cx="186.5" cy="701.5" r="2.8"/>
<circle cx="175.5" cy="820.5" r="2.8"/>
<circle cx="175.5" cy="796.5" r="2.8"/>
<circle cx="175.5" cy="772.5" r="2.8"/>
<circle cx="175.5" cy="725.5" r="2.8"/>
<circle cx="175.5" cy="701.5" r="2.8"/>
<circle cx="163.5" cy="796.5" r="2.8"/>
<circle cx="163.5" cy="772.5" r="2.8"/>
<circle cx="163.5" cy="748.5" r="2.8"/>
<circle cx="163.5" cy="725.5" r="2.8"/>
<circle cx="163.5" cy="701.5" r="2.8"/>
<circle cx="152.5" cy="796.5" r="2.8"/>
<circle cx="152.5" cy="772.5" r="2.8"/>
<circle cx="152.5" cy="748.5" r="2.8"/>
<circle cx="152.5" cy="725.5" r="2.8"/>
<circle cx="152.5" cy="701.5" r="2.8"/>
<circle cx="140.5" cy="820.5" r="2.8"/>
<circle cx="140.5" cy="796.5" r="2.8"/>
<circle cx="129.5" cy="796.5" r="2.8"/>
<circle cx="129.5" cy="772.5" r="2.8"/>
<circle cx="129.5" cy="748.5" r="2.8"/>
<circle cx="129.5" cy="725.5" r="2.8"/>
<circle cx="117.5" cy="796.5" r="2.8"/>
<circle cx="117.5" cy="772.5" r="2.8"/>
<circle cx="117.5" cy="748.5" r="2.8"/>
<circle cx="117.5" cy="725.5" r="2.8"/>
<circle cx="106.5" cy="820.5" r="2.8"/>
<circle cx="106.5" cy="796.5" r="2.8"/>
<circle cx="106.5" cy="772.5" r="2.8"/>
<circle cx="106.5" cy="748.5" r="2.8"/>
<circle cx="106.5" cy="725.5" r="2.8"/>
<circle cx="106.5" cy="701.5" r="2.8"/>
<circle cx="94.5" cy="844.5" r="2.8"/>
<circle cx="94.5" cy="820.5" r="2.8"/>
<circle cx="94.5" cy="796.5" r="2.8"/>
<circle cx="94.5" cy="772.5" r="2.8"/>
<circle cx="94.5" cy="748.5" r="2.8"/>
<circle cx="94.5" cy="725.5" r="2.8"/>
<circle cx="94.5" cy="701.5" r="2.8"/>
<circle cx="83.5" cy="796.5" r="2.8"/>
<circle cx="83.5" cy="748.5" r="2.8"/>
<circle cx="83.5" cy="725.5" r="2.8"/>
<circle cx="83.5" cy="701.5" r="2.8"/>
<circle cx="71.5" cy="844.5" r="2.8"/>
<circle cx="71.5" cy="820.5" r="2.8"/>
<circle cx="71.5" cy="796.5" r="2.8"/>
<circle cx="71.5" cy="772.5" r="2.8"/>
<circle cx="71.5" cy="748.5" r="2.8"/>
<circle cx="71.5" cy="725.5" r="2.8"/>
<circle cx="71.5" cy="701.5" r="2.8"/>
<circle cx="60.5" cy="820.5" r="2.8"/>
<circle cx="60.5" cy="796.5" r="2.8"/>
<circle cx="60.5" cy="772.5" r="2.8"/>
<circle cx="60.5" cy="748.5" r="2.8"/>
<circle cx="60.5" cy="725.5" r="2.8"/>
<circle cx="60.5" cy="701.5" r="2.8"/>
<circle cx="48.5" cy="820.5" r="2.8"/>
<circle cx="48.5" cy="796.5" r="2.8"/>
<circle cx="48.5" cy="772.5" r="2.8"/>
<circle cx="48.5" cy="748.5" r="2.8"/>
<circle cx="48.5" cy="725.5" r="2.8"/>
<circle cx="48.5" cy="701.5" r="2.8"/>
<circle cx="357.5" cy="796.5" r="2.8"/>
<circle cx="357.5" cy="772.5" r="2.8"/>
<circle cx="357.5" cy="748.5" r="2.8"/>
<circle cx="357.5" cy="725.5" r="2.8"/>
<circle cx="334.5" cy="772.5" r="2.8"/>
<circle cx="311.5" cy="844.5" r="2.8"/>
<circle cx="311.5" cy="820.5" r="2.8"/>
<circle cx="311.5" cy="796.5" r="2.8"/>
<circle cx="311.5" cy="772.5" r="2.8"/>
<circle cx="311.5" cy="748.5" r="2.8"/>
<circle cx="311.5" cy="725.5" r="2.8"/>
<circle cx="311.5" cy="701.5" r="2.8"/>
<circle cx="288.5" cy="820.5" r="2.8"/>
<circle cx="288.5" cy="796.5" r="2.8"/>
<circle cx="288.5" cy="772.5" r="2.8"/>
<circle cx="288.5" cy="748.5" r="2.8"/>
<circle cx="288.5" cy="725.5" r="2.8"/>
<circle cx="288.5" cy="701.5" r="2.8"/>
<circle cx="265.5" cy="725.5" r="2.8"/>
<circle cx="242.5" cy="725.5" r="2.8"/>
<circle cx="219.5" cy="772.5" r="2.8"/>
<circle cx="219.5" cy="725.5" r="2.8"/>
<circle cx="529.5" cy="796.5" r="2.8"/>
<circle cx="529.5" cy="772.5" r="2.8"/>
<circle cx="529.5" cy="748.5" r="2.8"/>
<circle cx="529.5" cy="725.5" r="2.8"/>
<circle cx="529.5" cy="701.5" r="2.8"/>
<circle cx="511.5" cy="796.5" r="2.8"/>
<circle cx="511.5" cy="725.5" r="2.8"/>
<circle cx="494.5" cy="701.5" r="2.8"/>
<circle cx="477.5" cy="820.5" r="2.8"/>
<circle cx="477.5" cy="796.5" r="2.8"/>
<circle cx="477.5" cy="772.5" r="2.8"/>
<circle cx="477.5" cy="748.5" r="2.8"/>
<circle cx="477.5" cy="725.5" r="2.8"/>
<circle cx="477.5" cy="701.5" r="2.8"/>
<circle cx="459.5" cy="844.5" r="2.8"/>
<circle cx="459.5" cy="820.5" r="2.8"/>
<circle cx="459.5" cy="796.5" r="2.8"/>
<circle cx="459.5" cy="772.5" r="2.8"/>
<circle cx="459.5" cy="748.5" r="2.8"/>
<circle cx="459.5" cy="725.5" r="2.8"/>
<circle cx="459.5" cy="701.5" r="2.8"/>
<circle cx="442.5" cy="725.5" r="2.8"/>
<circle cx="442.5" cy="701.5" r="2.8"/>
<circle cx="425.5" cy="701.5" r="2.8"/>
<circle cx="407.5" cy="701.5" r="2.8"/>
<circle cx="390.5" cy="820.5" r="2.8"/>
<circle cx="390.5" cy="796.5" r="2.8"/>
<circle cx="390.5" cy="772.5" r="2.8"/>
<circle cx="390.5" cy="725.5" r="2.8"/>
<circle cx="390.5" cy="701.5" r="2.8"/>
<circle cx="569.5" cy="701.5" r="2.8"/>
<circle cx="577.5" cy="701.5" r="2.8"/>
<circle cx="586.5" cy="701.5" r="2.8"/>
<circle cx="594.5" cy="701.5" r="2.8"/>
<circle cx="602.5" cy="701.5" r="2.8"/>
<circle cx="610.5" cy="701.5" r="2.8"/>
<circle cx="618.5" cy="701.5" r="2.8"/>
<circle cx="626.5" cy="701.5" r="2.8"/>
<circle cx="634.5" cy="701.5" r="2.8"/>
<circle cx="643.5" cy="701.5" r="2.8"/>
<circle cx="651.5" cy="701.5" r="2.8"/>
<circle cx="659.5" cy="701.5" r="2.8"/>
<circle cx="667.5" cy="701.5" r="2.8"/>
<circle cx="683.5" cy="701.5" r="2.8"/>
<circle cx="700.5" cy="701.5" r="2.8"/>
<circle cx="577.5" cy="725.5" r="2.8"/>
<circle cx="586.5" cy="725.5" r="2.8"/>
<circle cx="594.5" cy="725.5" r="2.8"/>
<circle cx="602.5" cy="725.5" r="2.8"/>
<circle cx="610.5" cy="725.5" r="2.8"/>
<circle cx="618.5" cy="725.5" r="2.8"/>
<circle cx="626.5" cy="725.5" r="2.8"/>
<circle cx="634.5" cy="725.5" r="2.8"/>
<circle cx="659.5" cy="725.5" r="2.8"/>
<circle cx="667.5" cy="725.5" r="2.8"/>
<circle cx="683.5" cy="725.5" r="2.8"/>
<circle cx="700.5" cy="725.5" r="2.8"/>
<circle cx="569.5" cy="748.5" r="2.8"/>
<circle cx="577.5" cy="748.5" r="2.8"/>
<circle cx="586.5" cy="748.5" r="2.8"/>
<circle cx="594.5" cy="748.5" r="2.8"/>
<circle cx="602.5" cy="748.5" r="2.8"/>
<circle cx="610.5" cy="748.5" r="2.8"/>
<circle cx="618.5" cy="748.5" r="2.8"/>
<circle cx="626.5" cy="748.5" r="2.8"/>
<circle cx="634.5" cy="748.5" r="2.8"/>
<circle cx="643.5" cy="748.5" r="2.8"/>
<circle cx="667.5" cy="748.5" r="2.8"/>
<circle cx="683.5" cy="748.5" r="2.8"/>
<circle cx="561.5" cy="772.5" r="2.8"/>
<circle cx="569.5" cy="772.5" r="2.8"/>
<circle cx="577.5" cy="772.5" r="2.8"/>
<circle cx="586.5" cy="772.5" r="2.8"/>
<circle cx="594.5" cy="772.5" r="2.8"/>
<circle cx="602.5" cy="772.5" r="2.8"/>
<circle cx="610.5" cy="772.5" r="2.8"/>
<circle cx="618.5" cy="772.5" r="2.8"/>
<circle cx="626.5" cy="772.5" r="2.8"/>
<circle cx="634.5" cy="772.5" r="2.8"/>
<circle cx="643.5" cy="772.5" r="2.8"/>
<circle cx="651.5" cy="772.5" r="2.8"/>
<circle cx="659.5" cy="772.5" r="2.8"/>
<circle cx="667.5" cy="772.5" r="2.8"/>
<circle cx="675.5" cy="772.5" r="2.8"/>
<circle cx="683.5" cy="772.5" r="2.8"/>
<circle cx="691.5" cy="772.5" r="2.8"/>
<circle cx="700.5" cy="772.5" r="2.8"/>
<circle cx="569.5" cy="796.5" r="2.8"/>
<circle cx="577.5" cy="796.5" r="2.8"/>
<circle cx="586.5" cy="796.5" r="2.8"/>
<circle cx="594.5" cy="796.5" r="2.8"/>
<circle cx="602.5" cy="796.5" r="2.8"/>
<circle cx="610.5" cy="796.5" r="2.8"/>
<circle cx="618.5" cy="796.5" r="2.8"/>
<circle cx="626.5" cy="796.5" r="2.8"/>
<circle cx="634.5" cy="796.5" r="2.8"/>
<circle cx="643.5" cy="796.5" r="2.8"/>
<circle cx="651.5" cy="796.5" r="2.8"/>
<circle cx="659.5" cy="796.5" r="2.8"/>
<circle cx="667.5" cy="796.5" r="2.8"/>
<circle cx="675.5" cy="796.5" r="2.8"/>
<circle cx="683.5" cy="796.5" r="2.8"/>
<circle cx="691.5" cy="796.5" r="2.8"/>
<circle cx="700.5" cy="796.5" r="2.8"/>
<circle cx="569.5" cy="820.5" r="2.8"/>
<circle cx="577.5" cy="820.5" r="2.8"/>
<circle cx="602.5" cy="820.5" r="2.8"/>
<circle cx="610.5" cy="820.5" r="2.8"/>
<circle cx="618.5" cy="820.5" r="2.8"/>
<circle cx="626.5" cy="820.5" r="2.8"/>
<circle cx="643.5" cy="820.5" r="2.8"/>
<circle cx="651.5" cy="820.5" r="2.8"/>
<circle cx="659.5" cy="820.5" r="2.8"/>
<circle cx="667.5" cy="820.5" r="2.8"/>
<circle cx="675.5" cy="820.5" r="2.8"/>
<circle cx="683.5" cy="820.5" r="2.8"/>
<circle cx="691.5" cy="820.5" r="2.8"/>
<circle cx="700.5" cy="820.5" r="2.8"/>
<circle cx="577.5" cy="844.5" r="2.8"/>
<circle cx="667.5" cy="844.5" r="2.8"/>
<circle cx="732.5" cy="844.5" r="2.8"/>
<circle cx="755.5" cy="820.5" r="2.8"/>
<circle cx="778.5" cy="796.5" r="2.8"/>
<circle cx="801.5" cy="772.5" r="2.8"/>
<circle cx="825.5" cy="748.5" r="2.8"/>
<circle cx="848.5" cy="725.5" r="2.8"/>
<circle cx="871.5" cy="701.5" r="2.8"/>
<circle cx="903.5" cy="844.5" r="2.8"/>
<circle cx="903.5" cy="820.5" r="2.8"/>
<circle cx="903.5" cy="796.5" r="2.8"/>
<circle cx="903.5" cy="772.5" r="2.8"/>
<circle cx="903.5" cy="748.5" r="2.8"/>
<circle cx="903.5" cy="725.5" r="2.8"/>
<circle cx="903.5" cy="701.5" r="2.8"/>
<circle cx="1042.5" cy="820.5" r="2.8"/>
<circle cx="1042.5" cy="796.5" r="2.8"/>
<circle cx="1042.5" cy="772.5" r="2.8"/>
<circle cx="1042.5" cy="748.5" r="2.8"/>
<circle cx="1042.5" cy="725.5" r="2.8"/>
<circle cx="1042.5" cy="701.5" r="2.8"/>
<circle cx="48.5" cy="1016.5" r="2.8"/>
<circle cx="60.5" cy="1016.5" r="2.8"/>
<circle cx="71.5" cy="1016.5" r="2.8"/>
<circle cx="83.5" cy="1016.5" r="2.8"/>
<circle cx="94.5" cy="1016.5" r="2.8"/>
<circle cx="106.5" cy="1016.5" r="2.8"/>
<circle cx="117.5" cy="1016.5" r="2.8"/>
<circle cx="129.5" cy="1016.5" r="2.8"/>
<circle cx="140.5" cy="1016.5" r="2.8"/>
<circle cx="152.5" cy="1016.5" r="2.8"/>
<circle cx="163.5" cy="1016.5" r="2.8"/>
<circle cx="175.5" cy="1016.5" r="2.8"/>
<circle cx="186.5" cy="1016.5" r="2.8"/>
<circle cx="60.5" cy="872.5" r="2.8"/>
<circle cx="71.5" cy="872.5" r="2.8"/>
<circle cx="83.5" cy="872.5" r="2.8"/>
<circle cx="94.5" cy="872.5" r="2.8"/>
<circle cx="106.5" cy="872.5" r="2.8"/>
<circle cx="117.5" cy="872.5" r="2.8"/>
<circle cx="129.5" cy="872.5" r="2.8"/>
<circle cx="140.5" cy="872.5" r="2.8"/>
<circle cx="152.5" cy="872.5" r="2.8"/>
<circle cx="186.5" cy="872.5" r="2.8"/>
<circle cx="219.5" cy="1016.5" r="2.8"/>
<circle cx="242.5" cy="1016.5" r="2.8"/>
<circle cx="265.5" cy="1016.5" r="2.8"/>
<circle cx="288.5" cy="1016.5" r="2.8"/>
<circle cx="311.5" cy="1016.5" r="2.8"/>
<circle cx="334.5" cy="1016.5" r="2.8"/>
<circle cx="357.5" cy="1016.5" r="2.8"/>
<circle cx="265.5" cy="872.5" r="2.8"/>
<circle cx="288.5" cy="872.5" r="2.8"/>
<circle cx="311.5" cy="872.5" r="2.8"/>
<circle cx="357.5" cy="872.5" r="2.8"/>
<circle cx="529.5" cy="1016.5" r="2.8"/>
<circle cx="511.5" cy="1016.5" r="2.8"/>
<circle cx="494.5" cy="1016.5" r="2.8"/>
<circle cx="459.5" cy="1016.5" r="2.8"/>
<circle cx="442.5" cy="1016.5" r="2.8"/>
<circle cx="425.5" cy="1016.5" r="2.8"/>
<circle cx="407.5" cy="1016.5" r="2.8"/>
<circle cx="390.5" cy="1016.5" r="2.8"/>
<circle cx="529.5" cy="872.5" r="2.8"/>
<circle cx="511.5" cy="872.5" r="2.8"/>
<circle cx="477.5" cy="872.5" r="2.8"/>
<circle cx="442.5" cy="872.5" r="2.8"/>
<circle cx="425.5" cy="872.5" r="2.8"/>
<circle cx="390.5" cy="872.5" r="2.8"/>
<circle cx="561.5" cy="1016.5" r="2.8"/>
<circle cx="569.5" cy="1016.5" r="2.8"/>
<circle cx="577.5" cy="1016.5" r="2.8"/>
<circle cx="586.5" cy="1016.5" r="2.8"/>
<circle cx="594.5" cy="1016.5" r="2.8"/>
<circle cx="602.5" cy="1016.5" r="2.8"/>
<circle cx="610.5" cy="1016.5" r="2.8"/>
<circle cx="618.5" cy="1016.5" r="2.8"/>
<circle cx="626.5" cy="1016.5" r="2.8"/>
<circle cx="634.5" cy="1016.5" r="2.8"/>
<circle cx="643.5" cy="1016.5" r="2.8"/>
<circle cx="651.5" cy="1016.5" r="2.8"/>
<circle cx="659.5" cy="1016.5" r="2.8"/>
<circle cx="667.5" cy="1016.5" r="2.8"/>
<circle cx="675.5" cy="1016.5" r="2.8"/>
<circle cx="683.5" cy="1016.5" r="2.8"/>
<circle cx="691.5" cy="1016.5" r="2.8"/>
<circle cx="700.5" cy="1016.5" r="2.8"/>
<circle cx="569.5" cy="872.5" r="2.8"/>
<circle cx="594.5" cy="872.5" r="2.8"/>
<circle cx="602.5" cy="872.5" r="2.8"/>
<circle cx="610.5" cy="872.5" r="2.8"/>
<circle cx="626.5" cy="872.5" r="2.8"/>
<circle cx="659.5" cy="872.5" r="2.8"/>
<circle cx="667.5" cy="872.5" r="2.8"/>
<circle cx="675.5" cy="872.5" r="2.8"/>
<circle cx="683.5" cy="872.5" r="2.8"/>
<circle cx="691.5" cy="872.5" r="2.8"/>
<circle cx="700.5" cy="872.5" r="2.8"/>
<circle cx="732.5" cy="1016.5" r="2.8"/>
<circle cx="755.5" cy="1016.5" r="2.8"/>
<circle cx="778.5" cy="1016.5" r="2.8"/>
<circle cx="801.5" cy="1016.5" r="2.8"/>
<circle cx="825.5" cy="1016.5" r="2.8"/>
<circle cx="848.5" cy="1016.5" r="2.8"/>
<circle cx="871.5" cy="1016.5" r="2.8"/>
<circle cx="755.5" cy="872.5" r="2.8"/>
<circle cx="778.5" cy="872.5" r="2.8"/>
<circle cx="801.5" cy="872.5" r="2.8"/>
<circle cx="825.5" cy="872.5" r="2.8"/>
<circle cx="848.5" cy="872.5" r="2.8"/>
<circle cx="871.5" cy="872.5" r="2.8"/>
<circle cx="903.5" cy="1016.5" r="2.8"/>
<circle cx="1042.5" cy="872.5" r="2.8"/>
</g>
<g fill="#000" fill-opacity="0.67">
<rect x="41.0" y="7.0" width="1" height="159.0"/>
<rect x="41.0" y="165.0" width="153.0" height="1"/>
<rect x="212.0" y="7.0" width="1" height="159.0"/>
<rect x="212.0" y="165.0" width="153.0" height="1"/>
<rect x="383.0" y="7.0" width="1" height="159.0"/>
<rect x="383.0" y="165.0" width="153.0" height="1"/>
<rect x="554.0" y="7.0" width="1" height="159.0"/>
<rect x="554.0" y="165.0" width="154.0" height="1"/>
<rect x="725.0" y="7.0" width="1" height="159.0"/>
<rect x="725.0" y="165.0" width="154.0" height="1"/>
<rect x="896.0" y="7.0" width="1" height="159.0"/>
<rect x="896.0" y="165.0" width="154.0" height="1"/>
<rect x="41.0" y="179.0" width="1" height="158.0"/>
<rect x="41.0" y="336.0" width="153.0" height="1"/>
<rect x="212.0" y="179.0" width="1" height="158.0"/>
<rect x="212.0" y="336.0" width="153.0" height="1"/>
<rect x="383.0" y="179.0" width="1" height="158.0"/>
<rect x="383.0" y="336.0" width="153.0" height="1"/>
<rect x="554.0" y="179.0" width="1" height="158.0"/>
<rect x="554.0" y="336.0" width="154.0" height="1"/>
<rect x="725.0" y="179.0" width="1" height="158.0"/>
<rect x="725.0" y="336.0" width="154.0" height="1"/>
<rect x="896.0" y="179.0" width="1" height="158.0"/>
<rect x="896.0" y="336.0" width="154.0" height="1"/>
<rect x="41.0" y="350.0" width="1" height="159.0"/>
<rect x="41.0" y="508.0" width="153.0" height="1"/>
<rect x="212.0" y="350.0" width="1" height="159.0"/>
<rect x="212.0" y="508.0" width="153.0" height="1"/>
<rect x="383.0" y="350.0" width="1" height="159.0"/>
<rect x="383.0" y="508.0" width="153.0" height="1"/>
<rect x="554.0" y="350.0" width="1" height="159.0"/>
<rect x="554.0" y="508.0" width="154.0" height="1"/>
<rect x="725.0" y="350.0" width="1" height="159.0"/>
<rect x="725.0" y="508.0" width="154.0" height="1"/>
<rect x="896.0" y="350.0" width="1" height="159.0"/>
<rect x="896.0" y="508.0" width="154.0" height="1"/>
<rect x="41.0" y="522.0" width="1" height="158.0"/>
<rect x="41.0" y="679.0" width="153.0" height="1"/>
<rect x="212.0" y="522.0" width="1" height="158.0"/>
<rect x="212.0" y="679.0" width="153.0" height="1"/>
<rect x="383.0" y="522.0" width="1" height="158.0"/>
<rect x="383.0" y="679.0" width="153.0" height="1"/>
<rect x="554.0" y="522.0" width="1" height="158.0"/>
<rect x="554.0" y="679.0" width="154.0" height="1"/>
<rect x="725.0" y="522.0" width="1" height="158.0"/>
<rect x="725.0" y="679.0" width="154.0" height="1"/>
<rect x="896.0" y="522.0" width="1" height="158.0"/>
<rect x="896.0" y="679.0" width="154.0" height="1"/>
<rect x="41.0" y="694.0" width="1" height="158.0"/>
<rect x="41.0" y="851.0" width="153.0" height="1"/>
<rect x="212.0" y="694.0" width="1" height="158.0"/>
<rect x="212.0" y="851.0" width="153.0" height="1"/>
<rect x="383.0" y="694.0" width="1" height="158.0"/>
<rect x="383.0" y="851.0" width="153.0" height="1"/>
<rect x="554.0" y="694.0" width="1" height="158.0"/>
<rect x="554.0" y="851.0" width="154.0" height="1"/>
<rect x="725.0" y="694.0" width="1" height="158.0"/>
<rect x="725.0" y="851.0" width="154.0" height="1"/>
<rect x="896.0" y="694.0" width="1" height="158.0"/>
<rect x="896.0" y="851.0" width="154.0" height="1"/>
<rect x="41.0" y="865.0" width="1" height="159.0"/>
<rect x="41.0" y="1023.0" width="153.0" height="1"/>
<rect x="212.0" y="865.0" width="1" height="159.0"/>
<rect x="212.0" y="1023.0" width="153.0" height="1"/>
<rect x="383.0" y="865.0" width="1" height="159.0"/>
<rect x="383.0" y="1023.0" width="153.0" height="1"/>
<rect x="554.0" y="865.0" width="1" height="159.0"/>
<rect x="554.0" y="1023.0" width="154.0" height="1"/>
<rect x="725.0" y="865.0" width="1" height="159.0"/>
<rect x="725.0" y="1023.0" width="154.0" height="1"/>
<rect x="896.0" y="865.0" width="1" height="159.0"/>
<rect x="896.0" y="1023.0" width="154.0" height="1"/>
</g>
<g fill="#efefef">
<rect x="898.0" y="10.0" width="11.0" height="45.6"/>
<polygon points="899.0,126.4 911.0,126.4 909.0,155.6 897.0,155.6"/>
<rect x="1035.6" y="36.0" width="12.0" height="59.0"/>
<rect x="1034.6" y="95.0" width="12.0" height="58.6"/>
<rect x="66.0" y="180.6" width="32.8" height="9.4"/>
<rect x="43.0" y="229.6" width="68.6" height="8.0"/>
<rect x="122.8" y="229.0" width="46.8" height="8.0"/>
<rect x="43.0" y="252.8" width="91.6" height="8.8"/>
<rect x="142.6" y="254.0" width="38.0" height="8.6"/>
<rect x="53.6" y="276.8" width="40.0" height="8.8"/>
<rect x="147.6" y="276.0" width="8.0" height="9.6"/>
<rect x="67.4" y="300.4" width="9.2" height="9.6"/>
<rect x="557.0" y="251.6" width="28.6" height="10.4"/>
<rect x="774.1" y="182.6" width="8.9" height="8.6"/>
<polygon points="844.6,182.8 854.0,182.8 852.2,189.8 842.9,189.8"/>
<rect x="773.1" y="228.2" width="9.9" height="12.6"/>
<rect x="897.6" y="181.0" width="11.4" height="18.0"/>
<rect x="895.4" y="201.0" width="15.6" height="49.0"/>
<rect x="895.0" y="250.0" width="15.0" height="47.6"/>
<rect x="1037.4" y="239.6" width="9.2" height="29.8"/>
<rect x="55.0" y="353.0" width="25.6" height="9.0"/>
<rect x="147.6" y="351.0" width="9.0" height="12.0"/>
<rect x="55.6" y="371.0" width="41.4" height="8.0"/>
<polygon points="68.4,389.0 77.6,389.0 75.6,398.0 66.4,398.0"/>
<rect x="81.6" y="407.0" width="29.0" height="7.0"/>
<rect x="44.0" y="424.0" width="67.6" height="9.6"/>
<polygon points="663.5,494.7 673.3,494.7 671.1,505.9 661.3,505.9"/>
<polygon points="692.8,495.5 706.5,495.5 704.9,507.5 691.2,507.5"/>
<polygon points="752.0,406.7 762.1,406.7 758.9,433.9 748.8,433.9"/>
<polygon points="774.1,404.5 785.4,404.5 782.0,435.2 770.7,435.2"/>
<polygon points="752.0,496.0 762.3,496.0 760.3,506.7 750.0,506.7"/>
<rect x="773.3" y="494.7" width="9.9" height="12.8"/>
<polygon points="214.5,558.6 224.5,558.6 223.5,576.0 213.5,576.0"/>
<rect x="214.4" y="609.0" width="10.6" height="43.6"/>
<polygon points="260.5,556.4 270.5,556.4 269.5,577.0 259.5,577.0"/>
<rect x="261.0" y="613.0" width="9.0" height="22.0"/>
<rect x="385.4" y="524.0" width="8.6" height="15.0"/>
<rect x="751.1" y="521.1" width="10.8" height="29.9"/>
<rect x="750.1" y="551.0" width="10.7" height="60.0"/>
<rect x="749.0" y="611.0" width="10.8" height="29.0"/>
<rect x="751.1" y="640.0" width="9.7" height="17.0"/>
<rect x="750.1" y="657.0" width="9.7" height="14.0"/>
<rect x="773.9" y="521.1" width="11.0" height="77.9"/>
<rect x="773.1" y="599.0" width="10.9" height="74.8"/>
<rect x="796.1" y="531.1" width="11.9" height="47.9"/>
<rect x="795.2" y="579.0" width="11.7" height="46.9"/>
<polygon points="796.9,651.3 806.6,651.3 805.4,675.8 795.7,675.8"/>
<rect x="821.0" y="579.0" width="12.0" height="46.0"/>
<rect x="820.1" y="625.0" width="11.9" height="44.7"/>
<rect x="844.2" y="522.2" width="10.9" height="29.8"/>
<rect x="843.2" y="552.0" width="10.8" height="29.7"/>
<rect x="843.2" y="584.9" width="11.9" height="41.1"/>
<rect x="844.2" y="626.0" width="10.9" height="41.7"/>
<rect x="865.9" y="529.1" width="11.3" height="64.9"/>
<rect x="865.3" y="594.0" width="10.7" height="66.5"/>
<rect x="897.4" y="519.6" width="12.6" height="158.0"/>
<rect x="1035.6" y="518.0" width="11.0" height="63.6"/>
<rect x="41.0" y="697.0" width="69.6" height="6.8"/>
<rect x="149.6" y="697.0" width="42.0" height="9.0"/>
<rect x="123.6" y="720.0" width="9.0" height="9.0"/>
<rect x="142.6" y="744.4" width="24.0" height="7.6"/>
<rect x="40.0" y="767.0" width="41.6" height="9.6"/>
<rect x="139.6" y="768.0" width="50.0" height="7.6"/>
<rect x="42.6" y="792.0" width="147.0" height="8.6"/>
<rect x="43.0" y="816.0" width="41.6" height="8.4"/>
<polygon points="215.5,767.6 224.5,767.6 223.5,776.0 214.5,776.0"/>
<rect x="563.0" y="696.4" width="98.0" height="8.6"/>
<rect x="566.0" y="720.0" width="72.6" height="9.0"/>
<rect x="683.0" y="720.0" width="13.0" height="16.0"/>
<rect x="566.6" y="744.0" width="85.0" height="8.4"/>
<rect x="678.0" y="740.0" width="9.6" height="13.6"/>
<rect x="558.0" y="767.6" width="145.6" height="10.0"/>
<rect x="566.6" y="792.0" width="132.0" height="8.0"/>
<rect x="567.0" y="817.0" width="14.0" height="6.6"/>
<rect x="593.0" y="816.0" width="39.6" height="8.0"/>
<rect x="638.6" y="815.6" width="63.0" height="10.0"/>
<polygon points="775.8,789.5 784.0,789.5 780.7,802.4 772.5,802.4"/>
<rect x="898.0" y="733.0" width="12.0" height="56.0"/>
<rect x="897.6" y="789.0" width="11.4" height="59.0"/>
<rect x="57.6" y="868.0" width="97.4" height="9.0"/>
<rect x="114.0" y="1010.6" width="35.0" height="10.8"/>
<rect x="166.0" y="1010.6" width="26.4" height="13.4"/>
<rect x="258.6" y="867.0" width="58.0" height="10.0"/>
<rect x="277.6" y="1010.6" width="86.4" height="12.4"/>
<rect x="395.0" y="1010.6" width="64.0" height="10.8"/>
<rect x="587.0" y="868.0" width="43.6" height="8.6"/>
<rect x="651.6" y="868.0" width="54.0" height="8.6"/>
<rect x="554.0" y="1010.6" width="47.6" height="11.4"/>
<rect x="675.6" y="1010.6" width="29.0" height="11.4"/>
<polygon points="766.5,868.6 786.5,868.6 785.5,877.0 765.5,877.0"/>
<polygon points="796.2,868.6 807.4,868.6 805.8,877.4 794.6,877.4"/>
<rect x="821.0" y="868.0" width="11.6" height="9.4"/>
<rect x="743.0" y="1010.0" width="47.6" height="13.0"/>
<polygon points="840.0,1011.4 858.6,1011.4 856.6,1022.0 838.0,1022.0"/>
<rect x="863.0" y="1012.0" width="13.6" height="12.2"/>
<polygon points="899.1,1011.4 909.1,1011.4 906.1,1024.0 896.1,1024.0"/>
<polygon points="866.2,868.5 874.8,868.5 876.9,877.3 864.1,877.3"/>
<polygon points="843.5,870.0 853.0,870.0 855.6,876.0 841.0,876.0"/>
<polygon points="816.5,1011.4 827.5,1011.4 830.0,1022.6 814.0,1022.6"/>
</g>
<rect x="73" y="236" width="1" height="1" fill="#999"/>
<rect x="75" y="236" width="1" height="1" fill="#999"/>
<rect x="77" y="236" width="1" height="1" fill="#999"/>
<rect x="79" y="236" width="1" height="1" fill="#999"/>
<rect x="81" y="236" width="1" height="1" fill="#999"/>
<rect x="83" y="236" width="1" height="1" fill="#999"/>
<rect x="143" y="235" width="1" height="1" fill="#111"/>
<rect x="145" y="235" width="1" height="1" fill="#111"/>
<rect x="147" y="235" width="1" height="1" fill="#111"/>
<rect x="80" y="260" width="1" height="1" fill="#111"/>
<rect x="82" y="260" width="1" height="1" fill="#111"/>
<rect x="84" y="260" width="1" height="1" fill="#111"/>
<rect x="86" y="260" width="1" height="1" fill="#111"/>
<rect x="88" y="260" width="1" height="1" fill="#111"/>
<rect x="90" y="260" width="1" height="1" fill="#111"/>
<rect x="92" y="260" width="1" height="1" fill="#111"/>
<rect x="94" y="260" width="1" height="1" fill="#111"/>
<rect x="158" y="261" width="1" height="1" fill="#111"/>
<rect x="160" y="261" width="1" height="1" fill="#111"/>
<rect x="162" y="261" width="1" height="1" fill="#111"/>
<rect x="69" y="284" width="1" height="1" fill="#555"/>
<rect x="71" y="284" width="1" height="1" fill="#555"/>
<rect x="73" y="284" width="1" height="1" fill="#555"/>
<rect x="75" y="284" width="1" height="1" fill="#555"/>
<rect x="568" y="261" width="1" height="1" fill="#555"/>
<rect x="570" y="261" width="1" height="1" fill="#555"/>
<rect x="572" y="261" width="1" height="1" fill="#555"/>
<rect x="574" y="261" width="1" height="1" fill="#555"/>
<rect x="907" y="239" width="1" height="1" fill="#111"/>
<rect x="909" y="239" width="1" height="1" fill="#111"/>
<rect x="907" y="246" width="1" height="1" fill="#111"/>
<rect x="909" y="246" width="1" height="1" fill="#111"/>
<rect x="907" y="253" width="1" height="1" fill="#111"/>
<rect x="909" y="253" width="1" height="1" fill="#111"/>
<rect x="907" y="260" width="1" height="1" fill="#111"/>
<rect x="909" y="260" width="1" height="1" fill="#111"/>
<rect x="66" y="361" width="1" height="1" fill="#999"/>
<rect x="68" y="361" width="1" height="1" fill="#999"/>
<rect x="70" y="361" width="1" height="1" fill="#999"/>
<rect x="72" y="377" width="1" height="1" fill="#111"/>
<rect x="74" y="377" width="1" height="1" fill="#111"/>
<rect x="76" y="377" width="1" height="1" fill="#111"/>
<rect x="78" y="377" width="1" height="1" fill="#111"/>
<rect x="93" y="413" width="1" height="1" fill="#999"/>
<rect x="95" y="413" width="1" height="1" fill="#999"/>
<rect x="97" y="413" width="1" height="1" fill="#999"/>
<rect x="68" y="432" width="1" height="1" fill="#555"/>
<rect x="70" y="432" width="1" height="1" fill="#555"/>
<rect x="72" y="432" width="1" height="1" fill="#555"/>
<rect x="74" y="432" width="1" height="1" fill="#555"/>
<rect x="76" y="432" width="1" height="1" fill="#555"/>
<rect x="78" y="432" width="1" height="1" fill="#555"/>
<rect x="80" y="432" width="1" height="1" fill="#555"/>
<rect x="82" y="432" width="1" height="1" fill="#555"/>
<rect x="71" y="703" width="1" height="1" fill="#555"/>
<rect x="73" y="703" width="1" height="1" fill="#555"/>
<rect x="75" y="703" width="1" height="1" fill="#555"/>
<rect x="77" y="703" width="1" height="1" fill="#555"/>
<rect x="79" y="703" width="1" height="1" fill="#555"/>
<rect x="166" y="704" width="1" height="1" fill="#111"/>
<rect x="168" y="704" width="1" height="1" fill="#111"/>
<rect x="170" y="704" width="1" height="1" fill="#111"/>
<rect x="172" y="704" width="1" height="1" fill="#111"/>
<rect x="152" y="751" width="1" height="1" fill="#555"/>
<rect x="154" y="751" width="1" height="1" fill="#555"/>
<rect x="57" y="775" width="1" height="1" fill="#111"/>
<rect x="59" y="775" width="1" height="1" fill="#111"/>
<rect x="61" y="775" width="1" height="1" fill="#111"/>
<rect x="160" y="774" width="1" height="1" fill="#111"/>
<rect x="162" y="774" width="1" height="1" fill="#111"/>
<rect x="164" y="774" width="1" height="1" fill="#111"/>
<rect x="166" y="774" width="1" height="1" fill="#111"/>
<rect x="100" y="800" width="1" height="1" fill="#999"/>
<rect x="102" y="800" width="1" height="1" fill="#999"/>
<rect x="104" y="800" width="1" height="1" fill="#999"/>
<rect x="106" y="800" width="1" height="1" fill="#999"/>
<rect x="108" y="800" width="1" height="1" fill="#999"/>
<rect x="110" y="800" width="1" height="1" fill="#999"/>
<rect x="112" y="800" width="1" height="1" fill="#999"/>
<rect x="114" y="800" width="1" height="1" fill="#999"/>
<rect x="116" y="800" width="1" height="1" fill="#999"/>
<rect x="118" y="800" width="1" height="1" fill="#999"/>
<rect x="120" y="800" width="1" height="1" fill="#999"/>
<rect x="122" y="800" width="1" height="1" fill="#999"/>
<rect x="124" y="800" width="1" height="1" fill="#999"/>
<rect x="126" y="800" width="1" height="1" fill="#999"/>
<rect x="128" y="800" width="1" height="1" fill="#999"/>
<rect x="130" y="800" width="1" height="1" fill="#999"/>
<rect x="132" y="800" width="1" height="1" fill="#999"/>
<rect x="134" y="800" width="1" height="1" fill="#999"/>
<rect x="136" y="800" width="1" height="1" fill="#999"/>
<rect x="60" y="823" width="1" height="1" fill="#111"/>
<rect x="62" y="823" width="1" height="1" fill="#111"/>
<rect x="64" y="823" width="1" height="1" fill="#111"/>
<rect x="563" y="704" width="1" height="1" fill="#111"/>
<rect x="565" y="704" width="1" height="1" fill="#111"/>
<rect x="567" y="704" width="1" height="1" fill="#111"/>
<rect x="569" y="704" width="1" height="1" fill="#111"/>
<rect x="571" y="704" width="1" height="1" fill="#111"/>
<rect x="573" y="704" width="1" height="1" fill="#111"/>
<rect x="575" y="704" width="1" height="1" fill="#111"/>
<rect x="577" y="704" width="1" height="1" fill="#111"/>
<rect x="579" y="704" width="1" height="1" fill="#111"/>
<rect x="581" y="704" width="1" height="1" fill="#111"/>
<rect x="583" y="704" width="1" height="1" fill="#111"/>
<rect x="585" y="704" width="1" height="1" fill="#111"/>
<rect x="587" y="704" width="1" height="1" fill="#111"/>
<rect x="566" y="728" width="1" height="1" fill="#111"/>
<rect x="568" y="728" width="1" height="1" fill="#111"/>
<rect x="570" y="728" width="1" height="1" fill="#111"/>
<rect x="572" y="728" width="1" height="1" fill="#111"/>
<rect x="574" y="728" width="1" height="1" fill="#111"/>
<rect x="576" y="728" width="1" height="1" fill="#111"/>
<rect x="578" y="728" width="1" height="1" fill="#111"/>
<rect x="580" y="728" width="1" height="1" fill="#111"/>
<rect x="582" y="728" width="1" height="1" fill="#111"/>
<rect x="584" y="728" width="1" height="1" fill="#111"/>
<rect x="586" y="728" width="1" height="1" fill="#111"/>
<rect x="599" y="751" width="1" height="1" fill="#555"/>
<rect x="601" y="751" width="1" height="1" fill="#555"/>
<rect x="603" y="751" width="1" height="1" fill="#555"/>
<rect x="605" y="751" width="1" height="1" fill="#555"/>
<rect x="607" y="751" width="1" height="1" fill="#555"/>
<rect x="609" y="751" width="1" height="1" fill="#555"/>
<rect x="611" y="751" width="1" height="1" fill="#555"/>
<rect x="613" y="751" width="1" height="1" fill="#555"/>
<rect x="615" y="751" width="1" height="1" fill="#555"/>
<rect x="617" y="751" width="1" height="1" fill="#555"/>
<rect x="619" y="751" width="1" height="1" fill="#555"/>
<rect x="621" y="751" width="1" height="1" fill="#555"/>
<rect x="611" y="776" width="1" height="1" fill="#111"/>
<rect x="613" y="776" width="1" height="1" fill="#111"/>
<rect x="615" y="776" width="1" height="1" fill="#111"/>
<rect x="617" y="776" width="1" height="1" fill="#111"/>
<rect x="619" y="776" width="1" height="1" fill="#111"/>
<rect x="621" y="776" width="1" height="1" fill="#111"/>
<rect x="623" y="776" width="1" height="1" fill="#111"/>
<rect x="625" y="776" width="1" height="1" fill="#111"/>
<rect x="627" y="776" width="1" height="1" fill="#111"/>
<rect x="629" y="776" width="1" height="1" fill="#111"/>
<rect x="631" y="776" width="1" height="1" fill="#111"/>
<rect x="633" y="776" width="1" height="1" fill="#111"/>
<rect x="635" y="776" width="1" height="1" fill="#111"/>
<rect x="637" y="776" width="1" height="1" fill="#111"/>
<rect x="639" y="776" width="1" height="1" fill="#111"/>
<rect x="641" y="776" width="1" height="1" fill="#111"/>
<rect x="643" y="776" width="1" height="1" fill="#111"/>
<rect x="645" y="776" width="1" height="1" fill="#111"/>
<rect x="647" y="776" width="1" height="1" fill="#111"/>
<rect x="614" y="799" width="1" height="1" fill="#999"/>
<rect x="616" y="799" width="1" height="1" fill="#999"/>
<rect x="618" y="799" width="1" height="1" fill="#999"/>
<rect x="620" y="799" width="1" height="1" fill="#999"/>
<rect x="622" y="799" width="1" height="1" fill="#999"/>
<rect x="624" y="799" width="1" height="1" fill="#999"/>
<rect x="626" y="799" width="1" height="1" fill="#999"/>
<rect x="628" y="799" width="1" height="1" fill="#999"/>
<rect x="630" y="799" width="1" height="1" fill="#999"/>
<rect x="632" y="799" width="1" height="1" fill="#999"/>
<rect x="634" y="799" width="1" height="1" fill="#999"/>
<rect x="636" y="799" width="1" height="1" fill="#999"/>
<rect x="638" y="799" width="1" height="1" fill="#999"/>
<rect x="640" y="799" width="1" height="1" fill="#999"/>
<rect x="642" y="799" width="1" height="1" fill="#999"/>
<rect x="607" y="823" width="1" height="1" fill="#999"/>
<rect x="609" y="823" width="1" height="1" fill="#999"/>
<rect x="611" y="823" width="1" height="1" fill="#999"/>
<rect x="613" y="823" width="1" height="1" fill="#999"/>
<rect x="662" y="824" width="1" height="1" fill="#555"/>
<rect x="664" y="824" width="1" height="1" fill="#555"/>
<rect x="666" y="824" width="1" height="1" fill="#555"/>
<rect x="668" y="824" width="1" height="1" fill="#555"/>
<rect x="670" y="824" width="1" height="1" fill="#555"/>
<rect x="672" y="824" width="1" height="1" fill="#555"/>
<rect x="674" y="824" width="1" height="1" fill="#555"/>
<rect x="676" y="824" width="1" height="1" fill="#555"/>
<rect x="98" y="875" width="1" height="1" fill="#999"/>
<rect x="100" y="875" width="1" height="1" fill="#999"/>
<rect x="102" y="875" width="1" height="1" fill="#999"/>
<rect x="104" y="875" width="1" height="1" fill="#999"/>
<rect x="106" y="875" width="1" height="1" fill="#999"/>
<rect x="108" y="875" width="1" height="1" fill="#999"/>
<rect x="110" y="875" width="1" height="1" fill="#999"/>
<rect x="112" y="875" width="1" height="1" fill="#999"/>
<rect x="114" y="875" width="1" height="1" fill="#999"/>
<rect x="116" y="875" width="1" height="1" fill="#999"/>
<rect x="118" y="875" width="1" height="1" fill="#999"/>
<rect x="127" y="1019" width="1" height="1" fill="#111"/>
<rect x="129" y="1019" width="1" height="1" fill="#111"/>
<rect x="131" y="1019" width="1" height="1" fill="#111"/>
<rect x="133" y="1019" width="1" height="1" fill="#111"/>
<rect x="176" y="1021" width="1" height="1" fill="#111"/>
<rect x="178" y="1021" width="1" height="1" fill="#111"/>
<rect x="180" y="1021" width="1" height="1" fill="#111"/>
<rect x="281" y="876" width="1" height="1" fill="#999"/>
<rect x="283" y="876" width="1" height="1" fill="#999"/>
<rect x="285" y="876" width="1" height="1" fill="#999"/>
<rect x="287" y="876" width="1" height="1" fill="#999"/>
<rect x="289" y="876" width="1" height="1" fill="#999"/>
<rect x="291" y="876" width="1" height="1" fill="#999"/>
<rect x="419" y="1020" width="1" height="1" fill="#555"/>
<rect x="421" y="1020" width="1" height="1" fill="#555"/>
<rect x="423" y="1020" width="1" height="1" fill="#555"/>
<rect x="425" y="1020" width="1" height="1" fill="#555"/>
<rect x="427" y="1020" width="1" height="1" fill="#555"/>
<rect x="429" y="1020" width="1" height="1" fill="#555"/>
<rect x="431" y="1020" width="1" height="1" fill="#555"/>
<rect x="605" y="875" width="1" height="1" fill="#999"/>
<rect x="607" y="875" width="1" height="1" fill="#999"/>
<rect x="609" y="875" width="1" height="1" fill="#999"/>
<rect x="611" y="875" width="1" height="1" fill="#999"/>
<rect x="613" y="875" width="1" height="1" fill="#999"/>
<rect x="615" y="875" width="1" height="1" fill="#999"/>
<rect x="671" y="875" width="1" height="1" fill="#999"/>
<rect x="673" y="875" width="1" height="1" fill="#999"/>
<rect x="675" y="875" width="1" height="1" fill="#999"/>
<rect x="677" y="875" width="1" height="1" fill="#999"/>
<rect x="679" y="875" width="1" height="1" fill="#999"/>
<rect x="681" y="875" width="1" height="1" fill="#999"/>
<rect x="571" y="1020" width="1" height="1" fill="#555"/>
<rect x="573" y="1020" width="1" height="1" fill="#555"/>
<rect x="575" y="1020" width="1" height="1" fill="#555"/>
<rect x="577" y="1020" width="1" height="1" fill="#555"/>
<rect x="579" y="1020" width="1" height="1" fill="#555"/>
<rect x="581" y="1020" width="1" height="1" fill="#555"/>
<rect x="583" y="1020" width="1" height="1" fill="#555"/>
<rect x="685" y="1020" width="1" height="1" fill="#999"/>
<rect x="687" y="1020" width="1" height="1" fill="#999"/>
<rect x="689" y="1020" width="1" height="1" fill="#999"/>
<rect x="691" y="1020" width="1" height="1" fill="#999"/>
<rect x="693" y="1020" width="1" height="1" fill="#999"/>
<rect x="695" y="1020" width="1" height="1" fill="#999"/>
<rect x="763" y="1021" width="1" height="1" fill="#555"/>
<rect x="765" y="1021" width="1" height="1" fill="#555"/>
<rect x="767" y="1021" width="1" height="1" fill="#555"/>
<rect x="769" y="1021" width="1" height="1" fill="#555"/>
<rect x="907" y="28" width="1" height="1" fill="#111"/>
<rect x="907" y="30" width="1" height="1" fill="#111"/>
<rect x="907" y="32" width="1" height="1" fill="#111"/>
<rect x="907" y="34" width="1" height="1" fill="#111"/>
<rect x="907" y="36" width="1" height="1" fill="#111"/>
<rect x="907" y="141" width="1" height="1" fill="#555"/>
<rect x="907" y="143" width="1" height="1" fill="#555"/>
<rect x="907" y="145" width="1" height="1" fill="#555"/>
<rect x="907" y="147" width="1" height="1" fill="#555"/>
<rect x="1045" y="84" width="1" height="1" fill="#555"/>
<rect x="1045" y="86" width="1" height="1" fill="#555"/>
<rect x="1045" y="88" width="1" height="1" fill="#555"/>
<rect x="1045" y="90" width="1" height="1" fill="#555"/>
<rect x="1045" y="92" width="1" height="1" fill="#555"/>
<rect x="1045" y="94" width="1" height="1" fill="#555"/>
<rect x="1045" y="96" width="1" height="1" fill="#555"/>
<rect x="1045" y="98" width="1" height="1" fill="#555"/>
<rect x="1045" y="100" width="1" height="1" fill="#555"/>
<rect x="1045" y="102" width="1" height="1" fill="#555"/>
<rect x="1045" y="104" width="1" height="1" fill="#555"/>
<rect x="1045" y="106" width="1" height="1" fill="#555"/>
<rect x="1045" y="108" width="1" height="1" fill="#555"/>
<rect x="759" y="418" width="1" height="1" fill="#999"/>
<rect x="759" y="420" width="1" height="1" fill="#999"/>
<rect x="759" y="422" width="1" height="1" fill="#999"/>
<rect x="759" y="424" width="1" height="1" fill="#999"/>
<rect x="221" y="567" width="1" height="1" fill="#999"/>
<rect x="221" y="569" width="1" height="1" fill="#999"/>
<rect x="221" y="571" width="1" height="1" fill="#999"/>
<rect x="223" y="626" width="1" height="1" fill="#111"/>
<rect x="223" y="628" width="1" height="1" fill="#111"/>
<rect x="223" y="630" width="1" height="1" fill="#111"/>
<rect x="223" y="632" width="1" height="1" fill="#111"/>
<rect x="223" y="634" width="1" height="1" fill="#111"/>
<rect x="267" y="567" width="1" height="1" fill="#555"/>
<rect x="267" y="569" width="1" height="1" fill="#555"/>
<rect x="267" y="571" width="1" height="1" fill="#555"/>
<rect x="756" y="566" width="1" height="1" fill="#999"/>
<rect x="756" y="568" width="1" height="1" fill="#999"/>
<rect x="756" y="570" width="1" height="1" fill="#999"/>
<rect x="756" y="572" width="1" height="1" fill="#999"/>
<rect x="756" y="574" width="1" height="1" fill="#999"/>
<rect x="756" y="576" width="1" height="1" fill="#999"/>
<rect x="756" y="578" width="1" height="1" fill="#999"/>
<rect x="756" y="580" width="1" height="1" fill="#999"/>
<rect x="756" y="582" width="1" height="1" fill="#999"/>
<rect x="756" y="584" width="1" height="1" fill="#999"/>
<rect x="756" y="586" width="1" height="1" fill="#999"/>
<rect x="756" y="588" width="1" height="1" fill="#999"/>
<rect x="756" y="590" width="1" height="1" fill="#999"/>
<rect x="756" y="592" width="1" height="1" fill="#999"/>
<rect x="756" y="594" width="1" height="1" fill="#999"/>
<rect x="756" y="596" width="1" height="1" fill="#999"/>
<rect x="759" y="654" width="1" height="1" fill="#555"/>
<rect x="759" y="656" width="1" height="1" fill="#555"/>
<rect x="783" y="577" width="1" height="1" fill="#555"/>
<rect x="783" y="579" width="1" height="1" fill="#555"/>
<rect x="783" y="581" width="1" height="1" fill="#555"/>
<rect x="783" y="583" width="1" height="1" fill="#555"/>
<rect x="783" y="585" width="1" height="1" fill="#555"/>
<rect x="783" y="587" width="1" height="1" fill="#555"/>
<rect x="783" y="589" width="1" height="1" fill="#555"/>
<rect x="783" y="591" width="1" height="1" fill="#555"/>
<rect x="783" y="593" width="1" height="1" fill="#555"/>
<rect x="783" y="595" width="1" height="1" fill="#555"/>
<rect x="783" y="597" width="1" height="1" fill="#555"/>
<rect x="783" y="599" width="1" height="1" fill="#555"/>
<rect x="783" y="601" width="1" height="1" fill="#555"/>
<rect x="783" y="603" width="1" height="1" fill="#555"/>
<rect x="783" y="605" width="1" height="1" fill="#555"/>
<rect x="783" y="607" width="1" height="1" fill="#555"/>
<rect x="783" y="609" width="1" height="1" fill="#555"/>
<rect x="783" y="611" width="1" height="1" fill="#555"/>
<rect x="783" y="613" width="1" height="1" fill="#555"/>
<rect x="783" y="615" width="1" height="1" fill="#555"/>
<rect x="783" y="617" width="1" height="1" fill="#555"/>
<rect x="783" y="619" width="1" height="1" fill="#555"/>
<rect x="805" y="566" width="1" height="1" fill="#555"/>
<rect x="805" y="568" width="1" height="1" fill="#555"/>
<rect x="805" y="570" width="1" height="1" fill="#555"/>
<rect x="805" y="572" width="1" height="1" fill="#555"/>
<rect x="805" y="574" width="1" height="1" fill="#555"/>
<rect x="805" y="576" width="1" height="1" fill="#555"/>
<rect x="805" y="578" width="1" height="1" fill="#555"/>
<rect x="805" y="580" width="1" height="1" fill="#555"/>
<rect x="805" y="582" width="1" height="1" fill="#555"/>
<rect x="805" y="584" width="1" height="1" fill="#555"/>
<rect x="805" y="586" width="1" height="1" fill="#555"/>
<rect x="805" y="588" width="1" height="1" fill="#555"/>
<rect x="805" y="590" width="1" height="1" fill="#555"/>
<rect x="805" y="592" width="1" height="1" fill="#555"/>
<rect x="804" y="662" width="1" height="1" fill="#555"/>
<rect x="804" y="664" width="1" height="1" fill="#555"/>
<rect x="804" y="666" width="1" height="1" fill="#555"/>
<rect x="830" y="611" width="1" height="1" fill="#555"/>
<rect x="830" y="613" width="1" height="1" fill="#555"/>
<rect x="830" y="615" width="1" height="1" fill="#555"/>
<rect x="830" y="617" width="1" height="1" fill="#555"/>
<rect x="830" y="619" width="1" height="1" fill="#555"/>
<rect x="830" y="621" width="1" height="1" fill="#555"/>
<rect x="830" y="623" width="1" height="1" fill="#555"/>
<rect x="830" y="625" width="1" height="1" fill="#555"/>
<rect x="830" y="627" width="1" height="1" fill="#555"/>
<rect x="830" y="629" width="1" height="1" fill="#555"/>
<rect x="830" y="631" width="1" height="1" fill="#555"/>
<rect x="830" y="633" width="1" height="1" fill="#555"/>
<rect x="830" y="635" width="1" height="1" fill="#555"/>
<rect x="830" y="637" width="1" height="1" fill="#555"/>
<rect x="852" y="545" width="1" height="1" fill="#555"/>
<rect x="852" y="547" width="1" height="1" fill="#555"/>
<rect x="852" y="549" width="1" height="1" fill="#555"/>
<rect x="852" y="551" width="1" height="1" fill="#555"/>
<rect x="852" y="553" width="1" height="1" fill="#555"/>
<rect x="852" y="555" width="1" height="1" fill="#555"/>
<rect x="852" y="557" width="1" height="1" fill="#555"/>
<rect x="853" y="616" width="1" height="1" fill="#555"/>
<rect x="853" y="618" width="1" height="1" fill="#555"/>
<rect x="853" y="620" width="1" height="1" fill="#555"/>
<rect x="853" y="622" width="1" height="1" fill="#555"/>
<rect x="853" y="624" width="1" height="1" fill="#555"/>
<rect x="853" y="626" width="1" height="1" fill="#555"/>
<rect x="853" y="628" width="1" height="1" fill="#555"/>
<rect x="853" y="630" width="1" height="1" fill="#555"/>
<rect x="853" y="632" width="1" height="1" fill="#555"/>
<rect x="853" y="634" width="1" height="1" fill="#555"/>
<rect x="853" y="636" width="1" height="1" fill="#555"/>
<rect x="853" y="638" width="1" height="1" fill="#555"/>
<rect x="853" y="640" width="1" height="1" fill="#555"/>
<rect x="874" y="575" width="1" height="1" fill="#555"/>
<rect x="874" y="577" width="1" height="1" fill="#555"/>
<rect x="874" y="579" width="1" height="1" fill="#555"/>
<rect x="874" y="581" width="1" height="1" fill="#555"/>
<rect x="874" y="583" width="1" height="1" fill="#555"/>
<rect x="874" y="585" width="1" height="1" fill="#555"/>
<rect x="874" y="587" width="1" height="1" fill="#555"/>
<rect x="874" y="589" width="1" height="1" fill="#555"/>
<rect x="874" y="591" width="1" height="1" fill="#555"/>
<rect x="874" y="593" width="1" height="1" fill="#555"/>
<rect x="874" y="595" width="1" height="1" fill="#555"/>
<rect x="874" y="597" width="1" height="1" fill="#555"/>
<rect x="874" y="599" width="1" height="1" fill="#555"/>
<rect x="874" y="601" width="1" height="1" fill="#555"/>
<rect x="874" y="603" width="1" height="1" fill="#555"/>
<rect x="874" y="605" width="1" height="1" fill="#555"/>
<rect x="874" y="607" width="1" height="1" fill="#555"/>
<rect x="874" y="609" width="1" height="1" fill="#555"/>
<rect x="874" y="611" width="1" height="1" fill="#555"/>
<rect x="874" y="613" width="1" height="1" fill="#555"/>
<rect x="908" y="573" width="1" height="1" fill="#111"/>
<rect x="908" y="575" width="1" height="1" fill="#111"/>
<rect x="908" y="577" width="1" height="1" fill="#111"/>
<rect x="908" y="579" width="1" height="1" fill="#111"/>
<rect x="908" y="581" width="1" height="1" fill="#111"/>
<rect x="908" y="583" width="1" height="1" fill="#111"/>
<rect x="908" y="585" width="1" height="1" fill="#111"/>
<rect x="908" y="587" width="1" height="1" fill="#111"/>
<rect x="908" y="589" width="1" height="1" fill="#111"/>
<rect x="908" y="591" width="1" height="1" fill="#111"/>
<rect x="908" y="593" width="1" height="1" fill="#111"/>
<rect x="908" y="595" width="1" height="1" fill="#111"/>
<rect x="908" y="597" width="1" height="1" fill="#111"/>
<rect x="908" y="599" width="1" height="1" fill="#111"/>
<rect x="908" y="601" width="1" height="1" fill="#111"/>
<rect x="908" y="603" width="1" height="1" fill="#111"/>
<rect x="908" y="605" width="1" height="1" fill="#111"/>
<rect x="908" y="607" width="1" height="1" fill="#111"/>
<rect x="908" y="609" width="1" height="1" fill="#111"/>
<rect x="908" y="611" width="1" height="1" fill="#111"/>
<rect x="908" y="613" width="1" height="1" fill="#111"/>
<rect x="908" y="615" width="1" height="1" fill="#111"/>
<rect x="908" y="617" width="1" height="1" fill="#111"/>
<rect x="908" y="619" width="1" height="1" fill="#111"/>
<rect x="908" y="621" width="1" height="1" fill="#111"/>
<rect x="908" y="623" width="1" height="1" fill="#111"/>
<rect x="908" y="625" width="1" height="1" fill="#111"/>
<rect x="1045" y="544" width="1" height="1" fill="#111"/>
<rect x="1045" y="546" width="1" height="1" fill="#111"/>
<rect x="1045" y="548" width="1" height="1" fill="#111"/>
<rect x="1045" y="550" width="1" height="1" fill="#111"/>
<rect x="1045" y="552" width="1" height="1" fill="#111"/>
<rect x="1045" y="554" width="1" height="1" fill="#111"/>
<rect x="1045" y="556" width="1" height="1" fill="#111"/>
<rect x="1045" y="558" width="1" height="1" fill="#111"/>
<rect x="904" y="779" width="1" height="1" fill="#999"/>
<rect x="904" y="785" width="1" height="1" fill="#999"/>
<rect x="904" y="790" width="1" height="1" fill="#999"/>
<rect x="904" y="796" width="1" height="1" fill="#999"/>
<rect x="904" y="801" width="1" height="1" fill="#999"/>
<rect x="80" y="188" width="1" height="1" fill="#111"/>
<rect x="85" y="188" width="1" height="1" fill="#111"/>
<rect x="153" y="281" width="1" height="1" fill="#999"/>
<rect x="72" y="306" width="1" height="1" fill="#999"/>
<rect x="781" y="234" width="1" height="1" fill="#555"/>
<rect x="906" y="190" width="1" height="1" fill="#999"/>
<rect x="155" y="358" width="1" height="1" fill="#999"/>
<rect x="72" y="396" width="1" height="1" fill="#111"/>
<rect x="669" y="501" width="1" height="1" fill="#999"/>
<rect x="698" y="503" width="1" height="1" fill="#111"/>
<rect x="782" y="418" width="1" height="1" fill="#111"/>
<rect x="782" y="423" width="1" height="1" fill="#111"/>
<rect x="760" y="501" width="1" height="1" fill="#999"/>
<rect x="781" y="501" width="1" height="1" fill="#999"/>
<rect x="268" y="625" width="1" height="1" fill="#555"/>
<rect x="392" y="532" width="1" height="1" fill="#555"/>
<rect x="131" y="725" width="1" height="1" fill="#999"/>
<rect x="694" y="728" width="1" height="1" fill="#333"/>
<rect x="686" y="747" width="1" height="1" fill="#555"/>
<rect x="780" y="796" width="1" height="1" fill="#555"/>
<rect x="296" y="1021" width="1" height="1" fill="#111"/>
<rect x="302" y="1021" width="1" height="1" fill="#111"/>
<rect x="339" y="1021" width="1" height="1" fill="#111"/>
<rect x="344" y="1021" width="1" height="1" fill="#111"/>
<rect x="776" y="876" width="1" height="1" fill="#555"/>
<rect x="804" y="874" width="1" height="1" fill="#555"/>
<rect x="830" y="874" width="1" height="1" fill="#555"/>
<rect x="869" y="875" width="1" height="1" fill="#555"/>
<rect x="848" y="1019" width="1" height="1" fill="#555"/>
<rect x="869" y="1021" width="1" height="1" fill="#555"/>
<rect x="822" y="1020" width="1" height="1" fill="#111"/>
<rect x="1039.6" y="265" width="3" height="3.6" rx="0.8" fill="#000"/>
<g font-family="'Liberation Sans', sans-serif" opacity="0.999">
<text x="34.6" y="17.7" font-size="8.5" text-anchor="end" fill="#444" font-style="italic">12</text>
<text x="34.4" y="41.9" font-size="9.5" text-anchor="end" fill="#262626">10</text>
<rect x="27.0" y="53.0" width="8.7" height="21.0" fill="#efefef"/>
<text x="34.6" y="69.5" font-size="8" text-anchor="middle" fill="#555" transform="rotate(-90 34.6 69.5)">8</text>
<rect x="25.0" y="81.7" width="10.0" height="8.8" fill="#efefef"/>
<text x="30.2" y="86.6" font-size="8" text-anchor="middle" fill="#444" transform="rotate(-90 30.2 86.6)">6</text>
<text x="34.4" y="113.9" font-size="9.5" text-anchor="end" fill="#262626">4</text>
<text x="34.4" y="136.9" font-size="9.5" text-anchor="end" fill="#262626">2</text>
<polygon fill="#efefef" points="27.4,148.7 36.5,148.7 34.9,164.5 25.8,164.5"/>
<text x="34.2" y="156.6" font-size="8" text-anchor="middle" fill="#444" transform="rotate(-90 34.2 156.6)">0</text>
<rect x="8.0" y="61.0" width="10.6" height="50.6" fill="#efefef"/>
<text x="16.0" y="88.0" font-size="7.2" text-anchor="middle" fill="#555" transform="rotate(-90 16.0 88.0)">By Navn</text>
<rect x="28.0" y="183.0" width="7.5" height="8.0" fill="#f4f4f4"/>
<text x="34.6" y="190.2" font-size="8.5" text-anchor="end" fill="#444" font-style="italic">6</text>
<rect x="28.0" y="205.0" width="7.5" height="10.0" fill="#f6f6f6"/>
<text x="34.6" y="213.6" font-size="9" text-anchor="end" fill="#555">5</text>
<text x="34.4" y="236.9" font-size="9.5" text-anchor="end" fill="#262626">4</text>
<text x="34.4" y="260.9" font-size="9.5" text-anchor="end" fill="#262626">3</text>
<rect x="27.0" y="276.0" width="8.0" height="10.0" fill="#f2f2f2"/>
<text x="33.5" y="284.0" font-size="6" text-anchor="end" fill="#555" font-style="italic">2</text>
<text x="34.4" y="308.9" font-size="9.5" text-anchor="end" fill="#262626">1</text>
<polygon fill="#efefef" points="25.8,320.7 36.8,320.7 35.2,335.0 24.2,335.0"/>
<text x="33.6" y="328.6" font-size="8" text-anchor="middle" fill="#333" transform="rotate(-90 33.6 328.6)">0</text>
<polygon fill="#efefef" points="14.3,239.3 27.6,239.3 25.6,278.3 12.3,278.3"/>
<text x="25.6" y="260.0" font-size="10.5" text-anchor="middle" fill="#555" transform="rotate(-90 25.6 260.0)">Pakke</text>
<text x="34.4" y="360.9" font-size="9.5" text-anchor="end" fill="#262626">8</text>
<text x="34.4" y="396.9" font-size="9.5" text-anchor="end" fill="#262626">6</text>
<text x="34.4" y="432.9" font-size="9.5" text-anchor="end" fill="#262626">4</text>
<text x="34.4" y="468.9" font-size="9.5" text-anchor="end" fill="#262626">2</text>
<polygon fill="#efefef" points="27.1,493.5 37.1,493.5 35.5,507.0 25.5,507.0"/>
<text x="34.8" y="504.3" font-size="9" text-anchor="end" fill="#333" font-style="italic">0</text>
<polygon fill="#efefef" points="13.3,413.8 24.6,413.8 23.0,448.7 11.7,448.7"/>
<text x="21.4" y="431.8" font-size="8" text-anchor="middle" fill="#666" transform="rotate(-90 21.4 431.8)">Variation</text>
<rect x="20.8" y="542.0" width="12.5" height="8.0" fill="#f4f4f4"/>
<text x="30.0" y="549.0" font-size="6.5" text-anchor="end" fill="#555">15</text>
<rect x="20.0" y="585.0" width="13.3" height="7.0" fill="#f4f4f4"/>
<text x="30.0" y="591.4" font-size="6.5" text-anchor="end" fill="#555">10</text>
<text x="34.4" y="633.9" font-size="9.5" text-anchor="end" fill="#262626">5</text>
<text x="34.2" y="675.0" font-size="8" text-anchor="end" fill="#555" font-style="italic">0</text>
<rect x="9.1" y="586.0" width="9.8" height="14.0" fill="#f0f0f0"/>
<rect x="8.2" y="599.5" width="9.6" height="14.5" fill="#f0f0f0"/>
<text x="15.6" y="600.6" font-size="5.6" text-anchor="middle" fill="#000" font-weight="bold" transform="rotate(-90 15.6 600.6)">Oprindelse</text>
<rect x="28.0" y="697.0" width="10.0" height="8.0" fill="#efefef"/>
<text x="35.6" y="704.3" font-size="8" text-anchor="end" fill="#111">6</text>
<text x="34.4" y="728.9" font-size="9.5" text-anchor="end" fill="#262626">5</text>
<rect x="26.0" y="743.5" width="10.0" height="9.5" fill="#f3f3f3"/>
<text x="33.6" y="752.0" font-size="7.5" text-anchor="end" fill="#555">4</text>
<rect x="24.0" y="768.5" width="12.0" height="8.5" fill="#efefef"/>
<text x="33.4" y="775.8" font-size="9.5" text-anchor="end" fill="#444">3</text>
<text x="34.4" y="799.9" font-size="9.5" text-anchor="end" fill="#262626">2</text>
<rect x="27.5" y="815.0" width="7.5" height="9.0" fill="#f3f3f3"/>
<text x="33.0" y="824.0" font-size="9" text-anchor="end" fill="#aaa">1</text>
<polygon fill="#efefef" points="25.5,838.5 35.5,838.5 34.5,852.0 24.5,852.0"/>
<text x="31.6" y="847.0" font-size="8" text-anchor="middle" fill="#333" transform="rotate(-90 31.6 847.0)">0</text>
<polygon fill="#efefef" points="12.2,751.0 23.0,751.0 22.0,797.0 11.2,797.0"/>
<text x="21.2" y="774.5" font-size="7" text-anchor="middle" fill="#222" transform="rotate(-90 21.2 774.5)">Vare Størrelse</text>
<rect x="20.0" y="868.0" width="14.0" height="9.0" fill="#efefef"/>
<text x="32.0" y="875.7" font-size="9" text-anchor="end" fill="#333">1.0</text>
<rect x="16.0" y="896.0" width="20.6" height="10.0" fill="#efefef"/>
<text x="31.0" y="904.8" font-size="9.5" text-anchor="end" fill="#333">0.8</text>
<rect x="18.0" y="926.0" width="16.0" height="9.0" fill="#efefef"/>
<text x="32.0" y="934.0" font-size="9.5" text-anchor="end" fill="#333">0.6</text>
<rect x="19.0" y="953.0" width="15.0" height="9.0" fill="#efefef"/>
<text x="30.0" y="961.0" font-size="9" text-anchor="end" fill="#444" font-style="italic">04</text>
<rect x="16.6" y="984.5" width="19.4" height="7.5" fill="#efefef"/>
<text x="26.0" y="991.0" font-size="6.5" text-anchor="end" fill="#444">02</text>
<rect x="16.0" y="1009.5" width="18.0" height="10.5" fill="#efefef"/>
<text x="31.0" y="1019.8" font-size="10" text-anchor="end" fill="#333">0.0</text>
<polygon fill="#efefef" points="5.3,933.0 16.4,933.0 15.2,957.0 4.1,957.0"/>
<text x="14.4" y="945.0" font-size="9" text-anchor="middle" fill="#333" transform="rotate(-90 14.4 945.0)">Farve</text>
<polygon fill="#efefef" points="45.0,1029.4 53.7,1029.4 51.7,1038.8 43.0,1038.8"/>
<text x="48.6" y="1037.4" font-size="8" text-anchor="middle" fill="#444" font-style="italic">0</text>
<text x="105.6" y="1037.0" font-size="8.5" text-anchor="middle" fill="#555">5</text>
<text x="164.0" y="1037.2" font-size="9" text-anchor="middle" fill="#444">10</text>
<text x="96.0" y="1049.8" font-size="10" text-anchor="middle" fill="#444">C</text>
<rect x="98.4" y="1039.8" width="45.4" height="11.0" fill="#efefef"/>
<text x="121.2" y="1048.4" font-size="8.5" text-anchor="middle" fill="#444">by Navn</text>
<text x="219.6" y="1038.8" font-size="8" text-anchor="middle" fill="#333">0</text>
<rect x="260.5" y="1029.4" width="10.5" height="10.4" fill="#efefef"/>
<text x="265.8" y="1039.0" font-size="9" text-anchor="middle" fill="#444">2</text>
<rect x="302.0" y="1028.5" width="13.7" height="9.0" fill="#efefef"/>
<text x="308.6" y="1036.4" font-size="7" text-anchor="middle" fill="#555">4</text>
<rect x="349.0" y="1027.5" width="15.0" height="11.9" fill="#efefef"/>
<text x="357.0" y="1038.6" font-size="10" text-anchor="middle" fill="#333">6</text>
<rect x="268.4" y="1038.8" width="43.6" height="13.8" fill="#efefef"/>
<text x="289.4" y="1051.6" font-size="12" text-anchor="middle" fill="#444">Pakke</text>
<rect x="382.3" y="1030.0" width="17.6" height="10.0" fill="#efefef"/>
<text x="391.4" y="1039.6" font-size="9" text-anchor="middle" fill="#333">0</text>
<polygon fill="#efefef" points="413.5,1028.0 433.4,1028.0 431.4,1039.4 411.5,1039.4"/>
<text x="423.0" y="1038.4" font-size="10" text-anchor="middle" fill="#333" font-style="italic">2</text>
<polygon fill="#efefef" points="449.4,1028.0 468.4,1028.0 466.4,1038.0 447.4,1038.0"/>
<text x="457.6" y="1037.0" font-size="9" text-anchor="middle" fill="#444" font-style="italic">4</text>
<rect x="483.4" y="1028.0" width="21.6" height="11.4" fill="#efefef"/>
<text x="494.0" y="1038.6" font-size="10" text-anchor="middle" fill="#333">6</text>
<polygon fill="#efefef" points="518.0,1027.5 540.0,1027.5 538.0,1039.0 516.0,1039.0"/>
<text x="528.6" y="1038.4" font-size="10.5" text-anchor="middle" fill="#333">8</text>
<rect x="439.0" y="1038.0" width="37.8" height="12.8" fill="#efefef"/>
<text x="457.4" y="1048.8" font-size="9" text-anchor="middle" fill="#111">Variation</text>
<polygon fill="#efefef" points="552.8,1030.0 567.0,1030.0 566.0,1040.7 551.8,1040.7"/>
<text x="560.2" y="1039.8" font-size="9.5" text-anchor="middle" fill="#222">0</text>
<rect x="596.3" y="1027.0" width="12.1" height="10.5" fill="#efefef"/>
<text x="602.4" y="1036.6" font-size="9" text-anchor="middle" fill="#444">5</text>
<rect x="632.0" y="1027.5" width="17.6" height="10.5" fill="#efefef"/>
<text x="640.4" y="1036.6" font-size="9.5" text-anchor="middle" fill="#444">10</text>
<text x="682.0" y="1037.8" font-size="9" text-anchor="middle" fill="#333">15</text>
<rect x="616.0" y="1041.0" width="29.0" height="9.8" fill="#efefef"/>
<text x="616.4" y="1047.8" font-size="5.4" text-anchor="start" fill="#111">Oprindelse</text>
<polygon fill="#efefef" points="729.5,1030.0 737.0,1030.0 736.0,1040.0 728.5,1040.0"/>
<text x="732.6" y="1039.0" font-size="8" text-anchor="middle" fill="#444" font-style="italic">0</text>
<polygon fill="#efefef" points="775.5,1029.0 784.2,1029.0 783.2,1038.5 774.5,1038.5"/>
<text x="779.4" y="1037.6" font-size="9" text-anchor="middle" fill="#444" font-style="italic">2</text>
<text x="824.6" y="1037.0" font-size="9" text-anchor="middle" fill="#444">4</text>
<text x="871.0" y="1036.6" font-size="7.5" text-anchor="middle" fill="#444">6</text>
<rect x="779.0" y="1039.8" width="45.7" height="10.2" fill="#efefef"/>
<text x="801.8" y="1047.8" font-size="7.3" text-anchor="middle" fill="#111">Vare Størrelse</text>
<polygon fill="#efefef" points="892.1,1027.5 915.5,1027.5 914.5,1039.8 891.1,1039.8"/>
<text x="903.4" y="1038.8" font-size="10.5" text-anchor="middle" fill="#333" font-style="italic">0.00</text>
<rect x="921.9" y="1028.0" width="32.1" height="10.8" fill="#efefef"/>
<text x="937.6" y="1037.8" font-size="10" text-anchor="middle" fill="#444">0.25</text>
<rect x="958.0" y="1027.0" width="27.0" height="11.0" fill="#efefef"/>
<text x="971.4" y="1036.8" font-size="10" text-anchor="middle" fill="#444">0.50</text>
<rect x="989.4" y="1027.5" width="52.0" height="11.5" fill="#efefef"/>
<text x="1006.7" y="1037.8" font-size="10" text-anchor="middle" fill="#111">0.75</text>
<text x="1026.7" y="1037.8" font-size="10" text-anchor="middle" fill="#111">1.0</text>
<text x="1046.0" y="1037.4" font-size="9" text-anchor="middle" fill="#444">00</text>
<rect x="959.0" y="1040.7" width="25.6" height="10.1" fill="#efefef"/>
<text x="971.4" y="1048.8" font-size="8.5" text-anchor="middle" fill="#444" font-style="italic">Farve</text>
</g>
</svg></body></html>
